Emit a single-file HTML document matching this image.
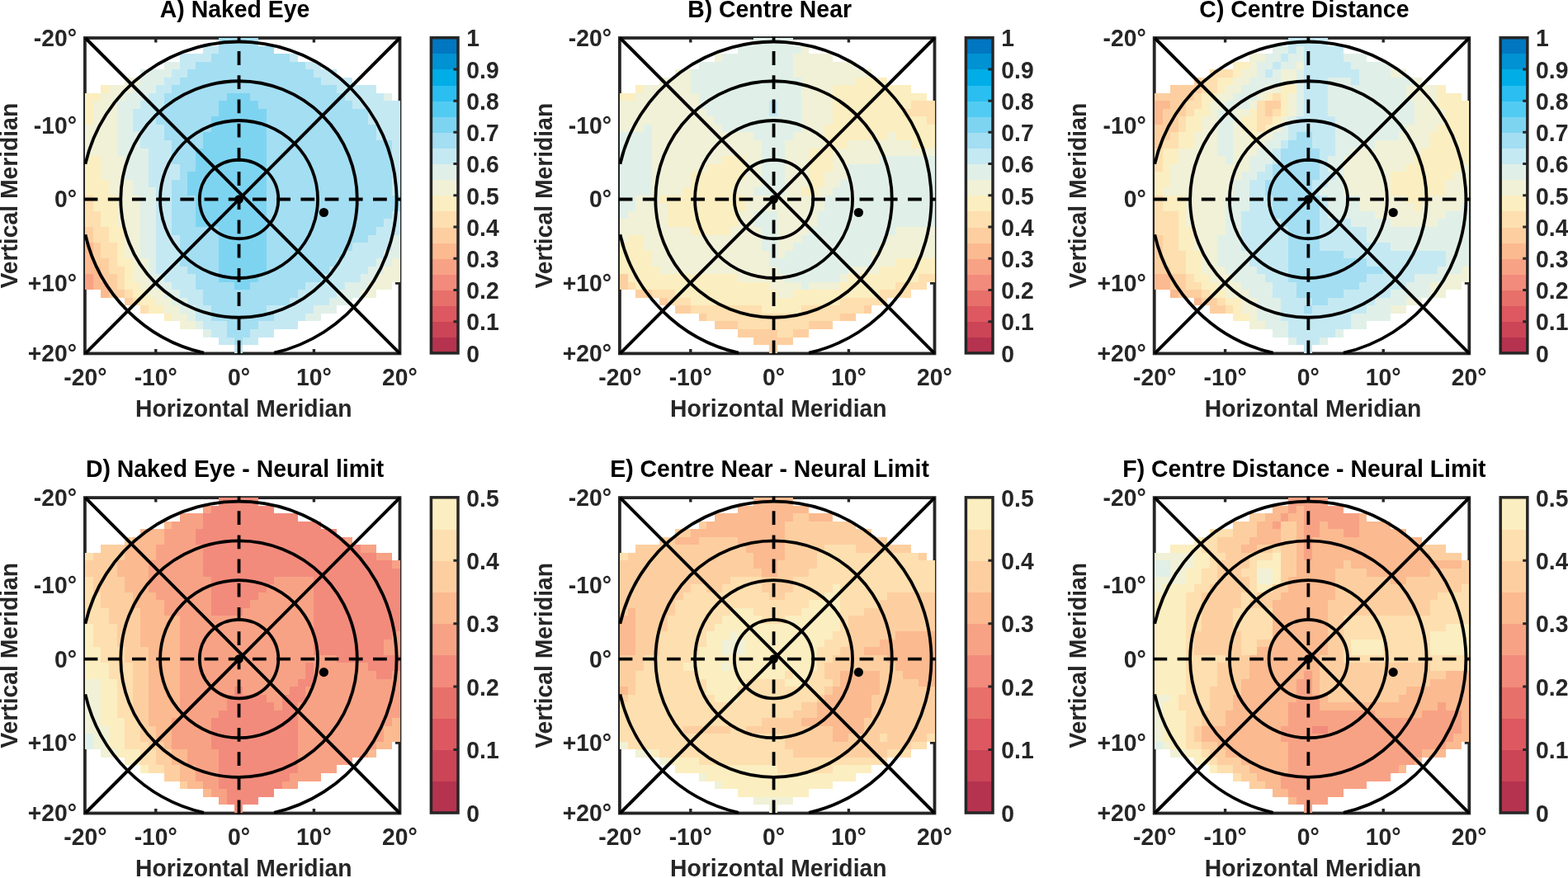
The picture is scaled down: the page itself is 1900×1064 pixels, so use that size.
<!DOCTYPE html>
<html lang="en">
<head>
<meta charset="utf-8">
<title>Visual field maps</title>
<style>
html,body{margin:0;padding:0;background:#fff;}
body{width:1900px;height:1064px;overflow:hidden;}
svg{display:block;}
text{font-family:"Liberation Sans", sans-serif;font-weight:bold;fill:#262626;}
text.t{fill:#000;}
</style>
</head>
<body>
<svg width="1900" height="1064" viewBox="0 0 1900 1064">
<rect width="1900" height="1064" fill="#fff"/>
<g class="panel">
<path d="M188.8 428.4v-5.5M188.8 46v5.5M289.55 428.4v-5.5M289.55 46v5.5M380.4 428.4v-5.5M380.4 46v5.5M103.4 152.1h5.5M484.5 152.1h-5.5M103.4 241.5h5.5M484.5 241.5h-5.5M103.4 343h5.5M484.5 343h-5.5" stroke="#262626" stroke-width="3.4" fill="none"/>
<rect x="102.9" y="46" width="381.6" height="382.4" fill="none" stroke="#262626" stroke-width="3.8"/>
<g shape-rendering="crispEdges" stroke="none">
<path fill="#F8A285" d="M103.4 332.2H112.93V341.74H103.4ZM103.4 341.74H112.93V351.28H103.4Z"/>
<path fill="#FBBA90" d="M103.4 294.04H112.93V303.58H103.4ZM103.4 303.58H112.93V313.12H103.4ZM103.4 313.12H112.93V322.66H103.4ZM103.4 322.66H122.46V332.2H103.4ZM112.93 332.2H122.46V341.74H112.93ZM112.93 341.74H131.98V351.28H112.93ZM122.46 351.28H131.98V360.82H122.46Z"/>
<path fill="#FDCFA0" d="M103.4 274.96H112.93V284.5H103.4ZM103.4 284.5H112.93V294.04H103.4ZM112.93 294.04H122.46V303.58H112.93ZM112.93 303.58H122.46V313.12H112.93ZM112.93 313.12H131.98V322.66H112.93ZM122.46 322.66H131.98V332.2H122.46ZM122.46 332.2H141.51V341.74H122.46ZM131.98 341.74H141.51V351.28H131.98ZM131.98 351.28H151.04V360.82H131.98ZM151.04 360.82H160.56V370.36H151.04Z"/>
<path fill="#FEDFAF" d="M103.4 236.8H112.93V246.34H103.4ZM103.4 246.34H112.93V255.88H103.4ZM103.4 255.88H122.46V265.42H103.4ZM103.4 265.42H122.46V274.96H103.4ZM112.93 274.96H131.98V284.5H112.93ZM112.93 284.5H131.98V294.04H112.93ZM122.46 294.04H141.51V303.58H122.46ZM122.46 303.58H141.51V313.12H122.46ZM131.98 313.12H141.51V322.66H131.98ZM131.98 322.66H151.04V332.2H131.98ZM141.51 332.2H151.04V341.74H141.51ZM141.51 341.74H151.04V351.28H141.51ZM151.04 351.28H160.56V360.82H151.04ZM160.56 360.82H170.09V370.36H160.56ZM170.09 370.36H179.62V379.9H170.09Z"/>
<path fill="#FBEEC0" d="M122.46 103.24H131.98V112.78H122.46ZM103.4 112.78H122.46V122.32H103.4ZM103.4 122.32H112.93V131.86H103.4ZM103.4 131.86H112.93V141.4H103.4ZM103.4 141.4H112.93V150.94H103.4ZM103.4 189.1H122.46V198.64H103.4ZM103.4 198.64H122.46V208.18H103.4ZM103.4 208.18H122.46V217.72H103.4ZM103.4 217.72H131.98V227.26H103.4ZM103.4 227.26H131.98V236.8H103.4ZM112.93 236.8H141.51V246.34H112.93ZM112.93 246.34H141.51V255.88H112.93ZM122.46 255.88H141.51V265.42H122.46ZM122.46 265.42H141.51V274.96H122.46ZM131.98 274.96H151.04V284.5H131.98ZM131.98 284.5H151.04V294.04H131.98ZM141.51 294.04H151.04V303.58H141.51ZM141.51 303.58H151.04V313.12H141.51ZM141.51 313.12H160.56V322.66H141.51ZM151.04 322.66H160.56V332.2H151.04ZM151.04 332.2H160.56V341.74H151.04ZM151.04 341.74H170.09V351.28H151.04ZM160.56 351.28H179.62V360.82H160.56ZM170.09 360.82H189.15V370.36H170.09ZM179.62 370.36H198.68V379.9H179.62ZM198.68 379.9H208.2V389.44H198.68Z"/>
<path fill="#F0F1D7" d="M151.04 93.7H170.09V103.24H151.04ZM131.98 103.24H160.56V112.78H131.98ZM122.46 112.78H151.04V122.32H122.46ZM112.93 122.32H141.51V131.86H112.93ZM112.93 131.86H141.51V141.4H112.93ZM112.93 141.4H141.51V150.94H112.93ZM103.4 150.94H141.51V160.48H103.4ZM103.4 160.48H141.51V170.02H103.4ZM103.4 170.02H141.51V179.56H103.4ZM103.4 179.56H141.51V189.1H103.4ZM122.46 189.1H151.04V198.64H122.46ZM122.46 198.64H151.04V208.18H122.46ZM122.46 208.18H151.04V217.72H122.46ZM131.98 217.72H160.56V227.26H131.98ZM131.98 227.26H160.56V236.8H131.98ZM141.51 236.8H170.09V246.34H141.51ZM141.51 246.34H170.09V255.88H141.51ZM141.51 255.88H170.09V265.42H141.51ZM141.51 265.42H170.09V274.96H141.51ZM151.04 274.96H170.09V284.5H151.04ZM151.04 284.5H170.09V294.04H151.04ZM151.04 294.04H170.09V303.58H151.04ZM151.04 303.58H170.09V313.12H151.04ZM160.56 313.12H179.62V322.66H160.56ZM474.97 313.12H484.5V322.66H474.97ZM160.56 322.66H179.62V332.2H160.56ZM465.45 322.66H484.5V332.2H465.45ZM160.56 332.2H179.62V341.74H160.56ZM455.92 332.2H484.5V341.74H455.92ZM170.09 341.74H189.15V351.28H170.09ZM446.39 341.74H474.97V351.28H446.39ZM179.62 351.28H198.68V360.82H179.62ZM436.86 351.28H455.92V360.82H436.86ZM189.15 360.82H208.2V370.36H189.15ZM198.68 370.36H217.73V379.9H198.68ZM208.2 379.9H227.26V389.44H208.2ZM217.73 389.44H236.78V398.98H217.73Z"/>
<path fill="#E0F0E8" d="M198.68 74.62H217.73V84.16H198.68ZM170.09 84.16H208.2V93.7H170.09ZM170.09 93.7H198.68V103.24H170.09ZM160.56 103.24H189.15V112.78H160.56ZM151.04 112.78H179.62V122.32H151.04ZM465.45 112.78H474.97V122.32H465.45ZM141.51 122.32H170.09V131.86H141.51ZM141.51 131.86H160.56V141.4H141.51ZM141.51 141.4H160.56V150.94H141.51ZM141.51 150.94H160.56V160.48H141.51ZM141.51 160.48H170.09V170.02H141.51ZM141.51 170.02H170.09V179.56H141.51ZM141.51 179.56H179.62V189.1H141.51ZM151.04 189.1H179.62V198.64H151.04ZM151.04 198.64H179.62V208.18H151.04ZM151.04 208.18H179.62V217.72H151.04ZM160.56 217.72H179.62V227.26H160.56ZM160.56 227.26H189.15V236.8H160.56ZM170.09 236.8H189.15V246.34H170.09ZM170.09 246.34H189.15V255.88H170.09ZM170.09 255.88H189.15V265.42H170.09ZM170.09 265.42H189.15V274.96H170.09ZM170.09 274.96H189.15V284.5H170.09ZM170.09 284.5H189.15V294.04H170.09ZM474.97 284.5H484.5V294.04H474.97ZM170.09 294.04H189.15V303.58H170.09ZM474.97 294.04H484.5V303.58H474.97ZM170.09 303.58H189.15V313.12H170.09ZM465.45 303.58H484.5V313.12H465.45ZM179.62 313.12H189.15V322.66H179.62ZM455.92 313.12H474.97V322.66H455.92ZM179.62 322.66H189.15V332.2H179.62ZM446.39 322.66H465.45V332.2H446.39ZM179.62 332.2H198.68V341.74H179.62ZM436.86 332.2H455.92V341.74H436.86ZM189.15 341.74H208.2V351.28H189.15ZM417.81 341.74H446.39V351.28H417.81ZM198.68 351.28H217.73V360.82H198.68ZM408.28 351.28H436.86V360.82H408.28ZM208.2 360.82H227.26V370.36H208.2ZM398.75 360.82H427.34V370.36H398.75ZM217.73 370.36H236.78V379.9H217.73ZM379.7 370.36H408.28V379.9H379.7ZM227.26 379.9H236.78V389.44H227.26ZM370.17 379.9H389.23V389.44H370.17ZM236.78 389.44H246.31V398.98H236.78ZM246.31 398.98H255.84V408.52H246.31Z"/>
<path fill="#C5E9F3" d="M246.31 55.54H265.37V65.08H246.31ZM217.73 65.08H255.84V74.62H217.73ZM351.12 65.08H360.64V74.62H351.12ZM217.73 74.62H236.78V84.16H217.73ZM370.17 74.62H389.23V84.16H370.17ZM208.2 84.16H227.26V93.7H208.2ZM379.7 84.16H408.28V93.7H379.7ZM198.68 93.7H217.73V103.24H198.68ZM389.23 93.7H427.34V103.24H389.23ZM189.15 103.24H208.2V112.78H189.15ZM408.28 103.24H455.92V112.78H408.28ZM179.62 112.78H198.68V122.32H179.62ZM417.81 112.78H465.45V122.32H417.81ZM170.09 122.32H198.68V131.86H170.09ZM427.34 122.32H484.5V131.86H427.34ZM160.56 131.86H189.15V141.4H160.56ZM446.39 131.86H484.5V141.4H446.39ZM160.56 141.4H189.15V150.94H160.56ZM446.39 141.4H484.5V150.94H446.39ZM160.56 150.94H198.68V160.48H160.56ZM455.92 150.94H484.5V160.48H455.92ZM170.09 160.48H198.68V170.02H170.09ZM455.92 160.48H484.5V170.02H455.92ZM170.09 170.02H208.2V179.56H170.09ZM474.97 170.02H484.5V179.56H474.97ZM179.62 179.56H208.2V189.1H179.62ZM474.97 179.56H484.5V189.1H474.97ZM179.62 189.1H208.2V198.64H179.62ZM474.97 189.1H484.5V198.64H474.97ZM179.62 198.64H217.73V208.18H179.62ZM474.97 198.64H484.5V208.18H474.97ZM179.62 208.18H217.73V217.72H179.62ZM474.97 208.18H484.5V217.72H474.97ZM179.62 217.72H208.2V227.26H179.62ZM474.97 217.72H484.5V227.26H474.97ZM189.15 227.26H208.2V236.8H189.15ZM474.97 227.26H484.5V236.8H474.97ZM189.15 236.8H208.2V246.34H189.15ZM189.15 246.34H208.2V255.88H189.15ZM189.15 255.88H208.2V265.42H189.15ZM474.97 255.88H484.5V265.42H474.97ZM189.15 265.42H208.2V274.96H189.15ZM465.45 265.42H484.5V274.96H465.45ZM189.15 274.96H208.2V284.5H189.15ZM455.92 274.96H484.5V284.5H455.92ZM189.15 284.5H217.73V294.04H189.15ZM446.39 284.5H474.97V294.04H446.39ZM189.15 294.04H217.73V303.58H189.15ZM427.34 294.04H474.97V303.58H427.34ZM189.15 303.58H217.73V313.12H189.15ZM417.81 303.58H465.45V313.12H417.81ZM189.15 313.12H217.73V322.66H189.15ZM408.28 313.12H455.92V322.66H408.28ZM189.15 322.66H227.26V332.2H189.15ZM398.75 322.66H446.39V332.2H398.75ZM198.68 332.2H236.78V341.74H198.68ZM389.23 332.2H436.86V341.74H389.23ZM208.2 341.74H236.78V351.28H208.2ZM370.17 341.74H417.81V351.28H370.17ZM217.73 351.28H246.31V360.82H217.73ZM360.64 351.28H408.28V360.82H360.64ZM227.26 360.82H246.31V370.36H227.26ZM351.12 360.82H398.75V370.36H351.12ZM236.78 370.36H255.84V379.9H236.78ZM322.53 370.36H379.7V379.9H322.53ZM236.78 379.9H255.84V389.44H236.78ZM332.06 379.9H370.17V389.44H332.06ZM246.31 389.44H274.89V398.98H246.31ZM313 389.44H360.64V398.98H313ZM255.84 398.98H274.89V408.52H255.84ZM303.48 398.98H332.06V408.52H303.48ZM265.37 408.52H284.42V418.06H265.37ZM293.95 408.52H313V418.06H293.95ZM284.42 418.06H293.95V427.6H284.42Z"/>
<path fill="#A4DEF2" d="M265.37 46H313V55.54H265.37ZM265.37 55.54H332.06V65.08H265.37ZM255.84 65.08H351.12V74.62H255.84ZM236.78 74.62H370.17V84.16H236.78ZM227.26 84.16H379.7V93.7H227.26ZM217.73 93.7H389.23V103.24H217.73ZM208.2 103.24H408.28V112.78H208.2ZM198.68 112.78H274.89V122.32H198.68ZM303.48 112.78H417.81V122.32H303.48ZM198.68 122.32H265.37V131.86H198.68ZM313 122.32H427.34V131.86H313ZM189.15 131.86H265.37V141.4H189.15ZM322.53 131.86H446.39V141.4H322.53ZM189.15 141.4H255.84V150.94H189.15ZM322.53 141.4H446.39V150.94H322.53ZM198.68 150.94H255.84V160.48H198.68ZM322.53 150.94H455.92V160.48H322.53ZM198.68 160.48H246.31V170.02H198.68ZM322.53 160.48H455.92V170.02H322.53ZM208.2 170.02H246.31V179.56H208.2ZM322.53 170.02H474.97V179.56H322.53ZM208.2 179.56H236.78V189.1H208.2ZM322.53 179.56H474.97V189.1H322.53ZM208.2 189.1H236.78V198.64H208.2ZM322.53 189.1H474.97V198.64H322.53ZM217.73 198.64H236.78V208.18H217.73ZM322.53 198.64H474.97V208.18H322.53ZM217.73 208.18H227.26V217.72H217.73ZM322.53 208.18H474.97V217.72H322.53ZM208.2 217.72H227.26V227.26H208.2ZM322.53 217.72H474.97V227.26H322.53ZM208.2 227.26H227.26V236.8H208.2ZM322.53 227.26H474.97V236.8H322.53ZM208.2 236.8H236.78V246.34H208.2ZM322.53 236.8H484.5V246.34H322.53ZM208.2 246.34H236.78V255.88H208.2ZM322.53 246.34H484.5V255.88H322.53ZM208.2 255.88H236.78V265.42H208.2ZM322.53 255.88H474.97V265.42H322.53ZM208.2 265.42H236.78V274.96H208.2ZM322.53 265.42H465.45V274.96H322.53ZM208.2 274.96H265.37V284.5H208.2ZM322.53 274.96H455.92V284.5H322.53ZM217.73 284.5H265.37V294.04H217.73ZM322.53 284.5H446.39V294.04H322.53ZM217.73 294.04H265.37V303.58H217.73ZM322.53 294.04H427.34V303.58H322.53ZM217.73 303.58H265.37V313.12H217.73ZM322.53 303.58H417.81V313.12H322.53ZM217.73 313.12H265.37V322.66H217.73ZM322.53 313.12H408.28V322.66H322.53ZM227.26 322.66H265.37V332.2H227.26ZM322.53 322.66H398.75V332.2H322.53ZM236.78 332.2H265.37V341.74H236.78ZM313 332.2H389.23V341.74H313ZM236.78 341.74H284.42V351.28H236.78ZM303.48 341.74H370.17V351.28H303.48ZM246.31 351.28H360.64V360.82H246.31ZM246.31 360.82H351.12V370.36H246.31ZM255.84 370.36H322.53V379.9H255.84ZM255.84 379.9H332.06V389.44H255.84ZM274.89 389.44H313V398.98H274.89ZM274.89 398.98H303.48V408.52H274.89ZM284.42 408.52H293.95V418.06H284.42Z"/>
<path fill="#7DD4F1" d="M274.89 112.78H303.48V122.32H274.89ZM265.37 122.32H313V131.86H265.37ZM265.37 131.86H322.53V141.4H265.37ZM255.84 141.4H322.53V150.94H255.84ZM255.84 150.94H322.53V160.48H255.84ZM246.31 160.48H322.53V170.02H246.31ZM246.31 170.02H322.53V179.56H246.31ZM236.78 179.56H322.53V189.1H236.78ZM236.78 189.1H322.53V198.64H236.78ZM236.78 198.64H322.53V208.18H236.78ZM227.26 208.18H322.53V217.72H227.26ZM227.26 217.72H322.53V227.26H227.26ZM227.26 227.26H322.53V236.8H227.26ZM236.78 236.8H322.53V246.34H236.78ZM236.78 246.34H322.53V255.88H236.78ZM236.78 255.88H322.53V265.42H236.78ZM236.78 265.42H322.53V274.96H236.78ZM265.37 274.96H322.53V284.5H265.37ZM265.37 284.5H322.53V294.04H265.37ZM265.37 294.04H322.53V303.58H265.37ZM265.37 303.58H322.53V313.12H265.37ZM265.37 313.12H322.53V322.66H265.37ZM265.37 322.66H322.53V332.2H265.37ZM265.37 332.2H313V341.74H265.37ZM284.42 341.74H303.48V351.28H284.42Z"/>
</g>
<g fill="none" stroke="#000" stroke-linecap="butt">
<circle cx="289.55" cy="241.5" r="47.75" stroke-width="3.8"/>
<circle cx="289.55" cy="241.5" r="95.5" stroke-width="3.8"/>
<circle cx="289.55" cy="241.5" r="143.25" stroke-width="3.8"/>
<path d="M103.4 198.73A191 191 0 1 1 332.1 427.7M247 427.7A191 191 0 0 1 103.4 284.27" stroke-width="3.8"/>
<path d="M103.4 46L484.5 428.4M103.4 428.4L484.5 46" stroke-width="3.9"/>
<path d="M101.6 241.5H486M289.55 429.3V44.5" stroke-width="3.8" stroke-dasharray="16.8 12.4"/>
<circle cx="289.55" cy="241.5" r="5.3" fill="#000" stroke="none"/>
<circle cx="392.4" cy="257.5" r="5.6" fill="#000" stroke="none"/>
</g>
<text class="t" transform="translate(284.6 21) scale(1 1.04)" font-size="28.4" text-anchor="middle">A) Naked Eye</text>
<text transform="translate(103.4 466.6) scale(1 1.04)" font-size="28.3" text-anchor="middle">-20°</text>
<text transform="translate(188.8 466.6) scale(1 1.04)" font-size="28.3" text-anchor="middle">-10°</text>
<text transform="translate(289.55 466.6) scale(1 1.04)" font-size="28.3" text-anchor="middle">0°</text>
<text transform="translate(380.4 466.6) scale(1 1.04)" font-size="28.3" text-anchor="middle">10°</text>
<text transform="translate(484.45 466.6) scale(1 1.04)" font-size="28.3" text-anchor="middle">20°</text>
<text transform="translate(93 55.9) scale(1 1.04)" font-size="28.3" text-anchor="end">-20°</text>
<text transform="translate(93 162) scale(1 1.04)" font-size="28.3" text-anchor="end">-10°</text>
<text transform="translate(93 251.4) scale(1 1.04)" font-size="28.3" text-anchor="end">0°</text>
<text transform="translate(93 352.9) scale(1 1.04)" font-size="28.3" text-anchor="end">+10°</text>
<text transform="translate(93 438.3) scale(1 1.04)" font-size="28.3" text-anchor="end">+20°</text>
<text transform="translate(295.3 505.2) scale(1 1.04)" font-size="28.3" text-anchor="middle">Horizontal Meridian</text>
<text transform="translate(20.6 237.2) rotate(-90) scale(1 1.04)" font-size="28.3" text-anchor="middle">Vertical Meridian</text>
<g shape-rendering="crispEdges">
<rect x="522.4" y="408.79" width="32.6" height="19.11" fill="#B5334F"/>
<rect x="522.4" y="389.68" width="32.6" height="19.61" fill="#CB4557"/>
<rect x="522.4" y="370.57" width="32.6" height="19.61" fill="#DD5860"/>
<rect x="522.4" y="351.46" width="32.6" height="19.61" fill="#E8706B"/>
<rect x="522.4" y="332.35" width="32.6" height="19.61" fill="#F28B7C"/>
<rect x="522.4" y="313.24" width="32.6" height="19.61" fill="#F8A285"/>
<rect x="522.4" y="294.13" width="32.6" height="19.61" fill="#FBBA90"/>
<rect x="522.4" y="275.02" width="32.6" height="19.61" fill="#FDCFA0"/>
<rect x="522.4" y="255.91" width="32.6" height="19.61" fill="#FEDFAF"/>
<rect x="522.4" y="236.8" width="32.6" height="19.61" fill="#FBEEC0"/>
<rect x="522.4" y="217.69" width="32.6" height="19.61" fill="#F0F1D7"/>
<rect x="522.4" y="198.58" width="32.6" height="19.61" fill="#E0F0E8"/>
<rect x="522.4" y="179.47" width="32.6" height="19.61" fill="#C5E9F3"/>
<rect x="522.4" y="160.36" width="32.6" height="19.61" fill="#A4DEF2"/>
<rect x="522.4" y="141.25" width="32.6" height="19.61" fill="#7DD4F1"/>
<rect x="522.4" y="122.14" width="32.6" height="19.61" fill="#52CBF2"/>
<rect x="522.4" y="103.03" width="32.6" height="19.61" fill="#2BBEF0"/>
<rect x="522.4" y="83.92" width="32.6" height="19.61" fill="#00ADE6"/>
<rect x="522.4" y="64.81" width="32.6" height="19.61" fill="#0092D2"/>
<rect x="522.4" y="45.7" width="32.6" height="19.61" fill="#0077C0"/>
</g>
<text transform="translate(565.3 438.6) scale(1 1.04)" font-size="28.3">0</text>
<text transform="translate(565.3 400.38) scale(1 1.04)" font-size="28.3">0.1</text>
<text transform="translate(565.3 362.16) scale(1 1.04)" font-size="28.3">0.2</text>
<text transform="translate(565.3 323.94) scale(1 1.04)" font-size="28.3">0.3</text>
<text transform="translate(565.3 285.72) scale(1 1.04)" font-size="28.3">0.4</text>
<text transform="translate(565.3 247.5) scale(1 1.04)" font-size="28.3">0.5</text>
<text transform="translate(565.3 209.28) scale(1 1.04)" font-size="28.3">0.6</text>
<text transform="translate(565.3 171.06) scale(1 1.04)" font-size="28.3">0.7</text>
<text transform="translate(565.3 132.84) scale(1 1.04)" font-size="28.3">0.8</text>
<text transform="translate(565.3 94.62) scale(1 1.04)" font-size="28.3">0.9</text>
<text transform="translate(565.3 56.4) scale(1 1.04)" font-size="28.3">1</text>
<path d="M555 389.68h-5.6M555 351.46h-5.6M555 313.24h-5.6M555 275.02h-5.6M555 236.8h-5.6M555 198.58h-5.6M555 160.36h-5.6M555 122.14h-5.6M555 83.92h-5.6" stroke="#262626" stroke-width="3" fill="none"/>
<rect x="522.4" y="45.7" width="32.6" height="382.2" fill="none" stroke="#262626" stroke-width="3.5"/>
</g>
<g class="panel">
<path d="M836.8 428.4v-5.5M836.8 46v5.5M937.55 428.4v-5.5M937.55 46v5.5M1028.4 428.4v-5.5M1028.4 46v5.5M751.4 152.1h5.5M1132.5 152.1h-5.5M751.4 241.5h5.5M1132.5 241.5h-5.5M751.4 343h5.5M1132.5 343h-5.5" stroke="#262626" stroke-width="3.4" fill="none"/>
<rect x="750.9" y="46" width="381.6" height="382.4" fill="none" stroke="#262626" stroke-width="3.8"/>
<g shape-rendering="crispEdges" stroke="none">
<path fill="#FDCFA0" d="M751.4 332.2H760.93V341.74H751.4ZM751.4 341.74H760.93V351.28H751.4ZM770.45 351.28H789.51V360.82H770.45ZM799.04 360.82H808.56V370.36H799.04ZM818.09 370.36H837.15V379.9H818.09ZM1046.75 370.36H1056.28V379.9H1046.75ZM846.67 379.9H856.2V389.44H846.67ZM1018.17 379.9H1037.22V389.44H1018.17ZM865.73 389.44H894.31V398.98H865.73ZM980.06 389.44H1008.64V398.98H980.06ZM894.31 398.98H941.95V408.52H894.31ZM961 398.98H980.06V408.52H961ZM913.37 408.52H961V418.06H913.37ZM932.42 418.06H941.95V427.6H932.42Z"/>
<path fill="#FEDFAF" d="M1103.92 122.32H1132.5V131.86H1103.92ZM1094.39 131.86H1132.5V141.4H1094.39ZM1122.97 141.4H1132.5V150.94H1122.97ZM1113.44 332.2H1132.5V341.74H1113.44ZM760.93 341.74H770.45V351.28H760.93ZM1084.86 341.74H1122.97V351.28H1084.86ZM789.51 351.28H818.09V360.82H789.51ZM1065.81 351.28H1103.92V360.82H1065.81ZM808.56 360.82H837.15V370.36H808.56ZM1018.17 360.82H1075.34V370.36H1018.17ZM837.15 370.36H922.89V379.9H837.15ZM970.53 370.36H1046.75V379.9H970.53ZM856.2 379.9H1018.17V389.44H856.2ZM894.31 389.44H980.06V398.98H894.31ZM941.95 398.98H961V408.52H941.95Z"/>
<path fill="#FBEEC0" d="M1037.22 93.7H1075.34V103.24H1037.22ZM770.45 103.24H779.98V112.78H770.45ZM1008.64 103.24H1103.92V112.78H1008.64ZM751.4 112.78H770.45V122.32H751.4ZM1008.64 112.78H1122.97V122.32H1008.64ZM1008.64 122.32H1103.92V131.86H1008.64ZM1008.64 131.86H1094.39V141.4H1008.64ZM1008.64 141.4H1122.97V150.94H1008.64ZM999.12 150.94H1132.5V160.48H999.12ZM999.12 160.48H1075.34V170.02H999.12ZM1084.86 160.48H1132.5V170.02H1084.86ZM999.12 170.02H1027.7V179.56H999.12ZM1103.92 170.02H1132.5V179.56H1103.92ZM980.06 179.56H1008.64V189.1H980.06ZM875.26 189.1H903.84V198.64H875.26ZM980.06 189.1H1008.64V198.64H980.06ZM856.2 198.64H903.84V208.18H856.2ZM980.06 198.64H1008.64V208.18H980.06ZM837.15 208.18H903.84V217.72H837.15ZM980.06 208.18H999.12V217.72H980.06ZM837.15 217.72H894.31V227.26H837.15ZM980.06 217.72H999.12V227.26H980.06ZM827.62 227.26H894.31V236.8H827.62ZM970.53 227.26H989.59V236.8H970.53ZM799.04 236.8H903.84V246.34H799.04ZM808.56 246.34H903.84V255.88H808.56ZM808.56 255.88H894.31V265.42H808.56ZM808.56 265.42H894.31V274.96H808.56ZM837.15 274.96H884.78V284.5H837.15ZM760.93 284.5H779.98V294.04H760.93ZM751.4 294.04H779.98V303.58H751.4ZM751.4 303.58H789.51V313.12H751.4ZM751.4 313.12H789.51V322.66H751.4ZM1084.86 313.12H1132.5V322.66H1084.86ZM751.4 322.66H799.04V332.2H751.4ZM1065.81 322.66H1132.5V332.2H1065.81ZM760.93 332.2H894.31V341.74H760.93ZM1027.7 332.2H1113.44V341.74H1027.7ZM770.45 341.74H932.42V351.28H770.45ZM1018.17 341.74H1084.86V351.28H1018.17ZM818.09 351.28H941.95V360.82H818.09ZM961 351.28H1065.81V360.82H961ZM837.15 360.82H1018.17V370.36H837.15ZM922.89 370.36H970.53V379.9H922.89Z"/>
<path fill="#F0F1D7" d="M970.53 55.54H980.06V65.08H970.53ZM865.73 65.08H875.26V74.62H865.73ZM961 65.08H1008.64V74.62H961ZM961 74.62H1037.22V84.16H961ZM818.09 84.16H837.15V93.7H818.09ZM961 84.16H1056.28V93.7H961ZM799.04 93.7H837.15V103.24H799.04ZM970.53 93.7H1037.22V103.24H970.53ZM779.98 103.24H837.15V112.78H779.98ZM970.53 103.24H1008.64V112.78H970.53ZM770.45 112.78H846.67V122.32H770.45ZM970.53 112.78H1008.64V122.32H970.53ZM751.4 122.32H846.67V131.86H751.4ZM970.53 122.32H1008.64V131.86H970.53ZM751.4 131.86H856.2V141.4H751.4ZM970.53 131.86H1008.64V141.4H970.53ZM751.4 141.4H865.73V150.94H751.4ZM970.53 141.4H1008.64V150.94H970.53ZM751.4 150.94H779.98V160.48H751.4ZM789.51 150.94H875.26V160.48H789.51ZM970.53 150.94H999.12V160.48H970.53ZM789.51 160.48H913.37V170.02H789.51ZM961 160.48H999.12V170.02H961ZM1075.34 160.48H1084.86V170.02H1075.34ZM789.51 170.02H922.89V179.56H789.51ZM951.48 170.02H999.12V179.56H951.48ZM1027.7 170.02H1103.92V179.56H1027.7ZM789.51 179.56H922.89V189.1H789.51ZM951.48 179.56H980.06V189.1H951.48ZM1008.64 179.56H1132.5V189.1H1008.64ZM789.51 189.1H875.26V198.64H789.51ZM903.84 189.1H922.89V198.64H903.84ZM951.48 189.1H980.06V198.64H951.48ZM1008.64 189.1H1065.81V198.64H1008.64ZM789.51 198.64H856.2V208.18H789.51ZM903.84 198.64H922.89V208.18H903.84ZM951.48 198.64H980.06V208.18H951.48ZM1008.64 198.64H1027.7V208.18H1008.64ZM789.51 208.18H837.15V217.72H789.51ZM903.84 208.18H922.89V217.72H903.84ZM951.48 208.18H980.06V217.72H951.48ZM999.12 208.18H1027.7V217.72H999.12ZM789.51 217.72H837.15V227.26H789.51ZM894.31 217.72H922.89V227.26H894.31ZM951.48 217.72H980.06V227.26H951.48ZM999.12 217.72H1018.17V227.26H999.12ZM789.51 227.26H827.62V236.8H789.51ZM894.31 227.26H913.37V236.8H894.31ZM951.48 227.26H970.53V236.8H951.48ZM989.59 227.26H1008.64V236.8H989.59ZM770.45 236.8H799.04V246.34H770.45ZM903.84 236.8H999.12V246.34H903.84ZM770.45 246.34H808.56V255.88H770.45ZM903.84 246.34H999.12V255.88H903.84ZM760.93 255.88H808.56V265.42H760.93ZM894.31 255.88H913.37V265.42H894.31ZM941.95 255.88H989.59V265.42H941.95ZM751.4 265.42H808.56V274.96H751.4ZM894.31 265.42H913.37V274.96H894.31ZM941.95 265.42H989.59V274.96H941.95ZM751.4 274.96H837.15V284.5H751.4ZM884.78 274.96H922.89V284.5H884.78ZM941.95 274.96H980.06V284.5H941.95ZM1084.86 274.96H1132.5V284.5H1084.86ZM751.4 284.5H760.93V294.04H751.4ZM779.98 284.5H922.89V294.04H779.98ZM941.95 284.5H970.53V294.04H941.95ZM1075.34 284.5H1132.5V294.04H1075.34ZM779.98 294.04H922.89V303.58H779.98ZM941.95 294.04H961V303.58H941.95ZM1065.81 294.04H1132.5V303.58H1065.81ZM789.51 303.58H932.42V313.12H789.51ZM941.95 303.58H951.48V313.12H941.95ZM1056.28 303.58H1132.5V313.12H1056.28ZM789.51 313.12H932.42V322.66H789.51ZM1056.28 313.12H1084.86V322.66H1056.28ZM799.04 322.66H941.95V332.2H799.04ZM1027.7 322.66H1065.81V332.2H1027.7ZM894.31 332.2H951.48V341.74H894.31ZM1018.17 332.2H1027.7V341.74H1018.17ZM932.42 341.74H970.53V351.28H932.42ZM980.06 341.74H1018.17V351.28H980.06ZM941.95 351.28H961V360.82H941.95Z"/>
<path fill="#E0F0E8" d="M913.37 46H961V55.54H913.37ZM894.31 55.54H970.53V65.08H894.31ZM875.26 65.08H961V74.62H875.26ZM846.67 74.62H961V84.16H846.67ZM837.15 84.16H961V93.7H837.15ZM837.15 93.7H970.53V103.24H837.15ZM837.15 103.24H970.53V112.78H837.15ZM846.67 112.78H970.53V122.32H846.67ZM846.67 122.32H932.42V131.86H846.67ZM941.95 122.32H970.53V131.86H941.95ZM856.2 131.86H932.42V141.4H856.2ZM941.95 131.86H970.53V141.4H941.95ZM865.73 141.4H970.53V150.94H865.73ZM779.98 150.94H789.51V160.48H779.98ZM875.26 150.94H970.53V160.48H875.26ZM751.4 160.48H789.51V170.02H751.4ZM913.37 160.48H961V170.02H913.37ZM751.4 170.02H789.51V179.56H751.4ZM922.89 170.02H951.48V179.56H922.89ZM751.4 179.56H789.51V189.1H751.4ZM922.89 179.56H951.48V189.1H922.89ZM751.4 189.1H789.51V198.64H751.4ZM922.89 189.1H951.48V198.64H922.89ZM1065.81 189.1H1132.5V198.64H1065.81ZM751.4 198.64H789.51V208.18H751.4ZM922.89 198.64H951.48V208.18H922.89ZM1027.7 198.64H1132.5V208.18H1027.7ZM751.4 208.18H789.51V217.72H751.4ZM922.89 208.18H951.48V217.72H922.89ZM1027.7 208.18H1132.5V217.72H1027.7ZM751.4 217.72H789.51V227.26H751.4ZM922.89 217.72H951.48V227.26H922.89ZM1018.17 217.72H1132.5V227.26H1018.17ZM751.4 227.26H789.51V236.8H751.4ZM913.37 227.26H951.48V236.8H913.37ZM1008.64 227.26H1132.5V236.8H1008.64ZM751.4 236.8H770.45V246.34H751.4ZM999.12 236.8H1132.5V246.34H999.12ZM751.4 246.34H770.45V255.88H751.4ZM999.12 246.34H1132.5V255.88H999.12ZM751.4 255.88H760.93V265.42H751.4ZM913.37 255.88H941.95V265.42H913.37ZM989.59 255.88H1132.5V265.42H989.59ZM913.37 265.42H941.95V274.96H913.37ZM989.59 265.42H1132.5V274.96H989.59ZM922.89 274.96H941.95V284.5H922.89ZM980.06 274.96H1084.86V284.5H980.06ZM922.89 284.5H941.95V294.04H922.89ZM970.53 284.5H1075.34V294.04H970.53ZM922.89 294.04H941.95V303.58H922.89ZM961 294.04H1065.81V303.58H961ZM932.42 303.58H941.95V313.12H932.42ZM951.48 303.58H1056.28V313.12H951.48ZM932.42 313.12H1056.28V322.66H932.42ZM941.95 322.66H1027.7V332.2H941.95ZM951.48 332.2H1018.17V341.74H951.48ZM970.53 341.74H980.06V351.28H970.53Z"/>
<path fill="#C5E9F3" d="M932.42 122.32H941.95V131.86H932.42ZM932.42 131.86H941.95V141.4H932.42Z"/>
</g>
<g fill="none" stroke="#000" stroke-linecap="butt">
<circle cx="937.55" cy="241.5" r="47.75" stroke-width="3.8"/>
<circle cx="937.55" cy="241.5" r="95.5" stroke-width="3.8"/>
<circle cx="937.55" cy="241.5" r="143.25" stroke-width="3.8"/>
<path d="M751.4 198.73A191 191 0 1 1 980.1 427.7M895 427.7A191 191 0 0 1 751.4 284.27" stroke-width="3.8"/>
<path d="M751.4 46L1132.5 428.4M751.4 428.4L1132.5 46" stroke-width="3.9"/>
<path d="M749.6 241.5H1134M937.55 429.3V44.5" stroke-width="3.8" stroke-dasharray="16.8 12.4"/>
<circle cx="937.55" cy="241.5" r="5.3" fill="#000" stroke="none"/>
<circle cx="1040.4" cy="257.5" r="5.6" fill="#000" stroke="none"/>
</g>
<text class="t" transform="translate(932.6 21) scale(1 1.04)" font-size="28.4" text-anchor="middle">B) Centre Near</text>
<text transform="translate(751.4 466.6) scale(1 1.04)" font-size="28.3" text-anchor="middle">-20°</text>
<text transform="translate(836.8 466.6) scale(1 1.04)" font-size="28.3" text-anchor="middle">-10°</text>
<text transform="translate(937.55 466.6) scale(1 1.04)" font-size="28.3" text-anchor="middle">0°</text>
<text transform="translate(1028.4 466.6) scale(1 1.04)" font-size="28.3" text-anchor="middle">10°</text>
<text transform="translate(1132.45 466.6) scale(1 1.04)" font-size="28.3" text-anchor="middle">20°</text>
<text transform="translate(741 55.9) scale(1 1.04)" font-size="28.3" text-anchor="end">-20°</text>
<text transform="translate(741 162) scale(1 1.04)" font-size="28.3" text-anchor="end">-10°</text>
<text transform="translate(741 251.4) scale(1 1.04)" font-size="28.3" text-anchor="end">0°</text>
<text transform="translate(741 352.9) scale(1 1.04)" font-size="28.3" text-anchor="end">+10°</text>
<text transform="translate(741 438.3) scale(1 1.04)" font-size="28.3" text-anchor="end">+20°</text>
<text transform="translate(943.3 505.2) scale(1 1.04)" font-size="28.3" text-anchor="middle">Horizontal Meridian</text>
<text transform="translate(668.6 237.2) rotate(-90) scale(1 1.04)" font-size="28.3" text-anchor="middle">Vertical Meridian</text>
<g shape-rendering="crispEdges">
<rect x="1170.4" y="408.79" width="32.6" height="19.11" fill="#B5334F"/>
<rect x="1170.4" y="389.68" width="32.6" height="19.61" fill="#CB4557"/>
<rect x="1170.4" y="370.57" width="32.6" height="19.61" fill="#DD5860"/>
<rect x="1170.4" y="351.46" width="32.6" height="19.61" fill="#E8706B"/>
<rect x="1170.4" y="332.35" width="32.6" height="19.61" fill="#F28B7C"/>
<rect x="1170.4" y="313.24" width="32.6" height="19.61" fill="#F8A285"/>
<rect x="1170.4" y="294.13" width="32.6" height="19.61" fill="#FBBA90"/>
<rect x="1170.4" y="275.02" width="32.6" height="19.61" fill="#FDCFA0"/>
<rect x="1170.4" y="255.91" width="32.6" height="19.61" fill="#FEDFAF"/>
<rect x="1170.4" y="236.8" width="32.6" height="19.61" fill="#FBEEC0"/>
<rect x="1170.4" y="217.69" width="32.6" height="19.61" fill="#F0F1D7"/>
<rect x="1170.4" y="198.58" width="32.6" height="19.61" fill="#E0F0E8"/>
<rect x="1170.4" y="179.47" width="32.6" height="19.61" fill="#C5E9F3"/>
<rect x="1170.4" y="160.36" width="32.6" height="19.61" fill="#A4DEF2"/>
<rect x="1170.4" y="141.25" width="32.6" height="19.61" fill="#7DD4F1"/>
<rect x="1170.4" y="122.14" width="32.6" height="19.61" fill="#52CBF2"/>
<rect x="1170.4" y="103.03" width="32.6" height="19.61" fill="#2BBEF0"/>
<rect x="1170.4" y="83.92" width="32.6" height="19.61" fill="#00ADE6"/>
<rect x="1170.4" y="64.81" width="32.6" height="19.61" fill="#0092D2"/>
<rect x="1170.4" y="45.7" width="32.6" height="19.61" fill="#0077C0"/>
</g>
<text transform="translate(1213.3 438.6) scale(1 1.04)" font-size="28.3">0</text>
<text transform="translate(1213.3 400.38) scale(1 1.04)" font-size="28.3">0.1</text>
<text transform="translate(1213.3 362.16) scale(1 1.04)" font-size="28.3">0.2</text>
<text transform="translate(1213.3 323.94) scale(1 1.04)" font-size="28.3">0.3</text>
<text transform="translate(1213.3 285.72) scale(1 1.04)" font-size="28.3">0.4</text>
<text transform="translate(1213.3 247.5) scale(1 1.04)" font-size="28.3">0.5</text>
<text transform="translate(1213.3 209.28) scale(1 1.04)" font-size="28.3">0.6</text>
<text transform="translate(1213.3 171.06) scale(1 1.04)" font-size="28.3">0.7</text>
<text transform="translate(1213.3 132.84) scale(1 1.04)" font-size="28.3">0.8</text>
<text transform="translate(1213.3 94.62) scale(1 1.04)" font-size="28.3">0.9</text>
<text transform="translate(1213.3 56.4) scale(1 1.04)" font-size="28.3">1</text>
<path d="M1203 389.68h-5.6M1203 351.46h-5.6M1203 313.24h-5.6M1203 275.02h-5.6M1203 236.8h-5.6M1203 198.58h-5.6M1203 160.36h-5.6M1203 122.14h-5.6M1203 83.92h-5.6" stroke="#262626" stroke-width="3" fill="none"/>
<rect x="1170.4" y="45.7" width="32.6" height="382.2" fill="none" stroke="#262626" stroke-width="3.5"/>
</g>
<g class="panel">
<path d="M1484.6 428.4v-5.5M1484.6 46v5.5M1585.35 428.4v-5.5M1585.35 46v5.5M1676.2 428.4v-5.5M1676.2 46v5.5M1399.2 152.1h5.5M1780.3 152.1h-5.5M1399.2 241.5h5.5M1780.3 241.5h-5.5M1399.2 343h5.5M1780.3 343h-5.5" stroke="#262626" stroke-width="3.4" fill="none"/>
<rect x="1398.7" y="46" width="381.6" height="382.4" fill="none" stroke="#262626" stroke-width="3.8"/>
<g shape-rendering="crispEdges" stroke="none">
<path fill="#FBBA90" d="M1399.2 122.32H1418.26V131.86H1399.2ZM1399.2 131.86H1408.73V141.4H1399.2ZM1399.2 141.4H1408.73V150.94H1399.2ZM1399.2 332.2H1418.26V341.74H1399.2ZM1399.2 341.74H1418.26V351.28H1399.2ZM1418.26 351.28H1427.78V360.82H1418.26ZM1446.84 360.82H1456.37V370.36H1446.84Z"/>
<path fill="#FDCFA0" d="M1446.84 93.7H1456.37V103.24H1446.84ZM1418.26 103.24H1456.37V112.78H1418.26ZM1399.2 112.78H1446.84V122.32H1399.2ZM1418.26 122.32H1437.31V131.86H1418.26ZM1532.59 122.32H1551.64V131.86H1532.59ZM1408.73 131.86H1437.31V141.4H1408.73ZM1532.59 131.86H1542.11V141.4H1532.59ZM1408.73 141.4H1427.78V150.94H1408.73ZM1399.2 150.94H1427.78V160.48H1399.2ZM1399.2 160.48H1418.26V170.02H1399.2ZM1399.2 170.02H1408.73V179.56H1399.2ZM1399.2 284.5H1408.73V294.04H1399.2ZM1399.2 294.04H1408.73V303.58H1399.2ZM1399.2 303.58H1408.73V313.12H1399.2ZM1399.2 313.12H1408.73V322.66H1399.2ZM1399.2 322.66H1418.26V332.2H1399.2ZM1418.26 332.2H1437.31V341.74H1418.26ZM1418.26 341.74H1437.31V351.28H1418.26ZM1427.78 351.28H1456.37V360.82H1427.78ZM1456.37 360.82H1475.42V370.36H1456.37ZM1465.89 370.36H1484.95V379.9H1465.89Z"/>
<path fill="#FEDFAF" d="M1465.89 84.16H1494.48V93.7H1465.89ZM1456.37 93.7H1475.42V103.24H1456.37ZM1456.37 103.24H1475.42V112.78H1456.37ZM1446.84 112.78H1456.37V122.32H1446.84ZM1542.11 112.78H1551.64V122.32H1542.11ZM1437.31 122.32H1456.37V131.86H1437.31ZM1523.06 122.32H1532.59V131.86H1523.06ZM1437.31 131.86H1446.84V141.4H1437.31ZM1523.06 131.86H1532.59V141.4H1523.06ZM1542.11 131.86H1551.64V141.4H1542.11ZM1427.78 141.4H1437.31V150.94H1427.78ZM1523.06 141.4H1542.11V150.94H1523.06ZM1427.78 150.94H1437.31V160.48H1427.78ZM1523.06 150.94H1532.59V160.48H1523.06ZM1418.26 160.48H1427.78V170.02H1418.26ZM1408.73 170.02H1427.78V179.56H1408.73ZM1399.2 179.56H1408.73V189.1H1399.2ZM1399.2 189.1H1408.73V198.64H1399.2ZM1399.2 198.64H1408.73V208.18H1399.2ZM1399.2 236.8H1408.73V246.34H1399.2ZM1399.2 246.34H1408.73V255.88H1399.2ZM1399.2 255.88H1427.78V265.42H1399.2ZM1399.2 265.42H1427.78V274.96H1399.2ZM1399.2 274.96H1427.78V284.5H1399.2ZM1408.73 284.5H1427.78V294.04H1408.73ZM1408.73 294.04H1427.78V303.58H1408.73ZM1408.73 303.58H1437.31V313.12H1408.73ZM1408.73 313.12H1437.31V322.66H1408.73ZM1418.26 322.66H1437.31V332.2H1418.26ZM1437.31 332.2H1446.84V341.74H1437.31ZM1437.31 341.74H1456.37V351.28H1437.31ZM1456.37 351.28H1465.89V360.82H1456.37ZM1475.42 360.82H1484.95V370.36H1475.42ZM1484.95 370.36H1494.48V379.9H1484.95Z"/>
<path fill="#FBEEC0" d="M1494.48 74.62H1513.53V84.16H1494.48ZM1494.48 84.16H1504V93.7H1494.48ZM1475.42 93.7H1494.48V103.24H1475.42ZM1475.42 103.24H1484.95V112.78H1475.42ZM1551.64 103.24H1570.7V112.78H1551.64ZM1742.19 103.24H1751.72V112.78H1742.19ZM1456.37 112.78H1475.42V122.32H1456.37ZM1532.59 112.78H1542.11V122.32H1532.59ZM1551.64 112.78H1561.17V122.32H1551.64ZM1742.19 112.78H1770.77V122.32H1742.19ZM1456.37 122.32H1465.89V131.86H1456.37ZM1551.64 122.32H1561.17V131.86H1551.64ZM1742.19 122.32H1780.3V131.86H1742.19ZM1446.84 131.86H1465.89V141.4H1446.84ZM1513.53 131.86H1523.06V141.4H1513.53ZM1551.64 131.86H1561.17V141.4H1551.64ZM1751.72 131.86H1780.3V141.4H1751.72ZM1437.31 141.4H1456.37V150.94H1437.31ZM1504 141.4H1523.06V150.94H1504ZM1542.11 141.4H1551.64V150.94H1542.11ZM1751.72 141.4H1780.3V150.94H1751.72ZM1437.31 150.94H1456.37V160.48H1437.31ZM1504 150.94H1523.06V160.48H1504ZM1532.59 150.94H1542.11V160.48H1532.59ZM1742.19 150.94H1780.3V160.48H1742.19ZM1427.78 160.48H1446.84V170.02H1427.78ZM1513.53 160.48H1523.06V170.02H1513.53ZM1732.66 160.48H1780.3V170.02H1732.66ZM1427.78 170.02H1446.84V179.56H1427.78ZM1732.66 170.02H1780.3V179.56H1732.66ZM1408.73 179.56H1427.78V189.1H1408.73ZM1723.13 179.56H1780.3V189.1H1723.13ZM1408.73 189.1H1427.78V198.64H1408.73ZM1713.61 189.1H1780.3V198.64H1713.61ZM1408.73 198.64H1418.26V208.18H1408.73ZM1704.08 198.64H1770.77V208.18H1704.08ZM1399.2 208.18H1418.26V217.72H1399.2ZM1685.03 208.18H1761.25V217.72H1685.03ZM1399.2 217.72H1418.26V227.26H1399.2ZM1685.03 217.72H1751.72V227.26H1685.03ZM1399.2 227.26H1408.73V236.8H1399.2ZM1685.03 227.26H1751.72V236.8H1685.03ZM1408.73 236.8H1437.31V246.34H1408.73ZM1704.08 236.8H1732.66V246.34H1704.08ZM1408.73 246.34H1437.31V255.88H1408.73ZM1713.61 246.34H1723.13V255.88H1713.61ZM1427.78 255.88H1437.31V265.42H1427.78ZM1427.78 265.42H1437.31V274.96H1427.78ZM1427.78 274.96H1446.84V284.5H1427.78ZM1427.78 284.5H1446.84V294.04H1427.78ZM1427.78 294.04H1446.84V303.58H1427.78ZM1437.31 303.58H1456.37V313.12H1437.31ZM1437.31 313.12H1456.37V322.66H1437.31ZM1437.31 322.66H1456.37V332.2H1437.31ZM1446.84 332.2H1465.89V341.74H1446.84ZM1456.37 341.74H1475.42V351.28H1456.37ZM1465.89 351.28H1484.95V360.82H1465.89ZM1484.95 360.82H1504V370.36H1484.95ZM1494.48 370.36H1504V379.9H1494.48ZM1494.48 379.9H1513.53V389.44H1494.48Z"/>
<path fill="#F0F1D7" d="M1513.53 65.08H1532.59V74.62H1513.53ZM1513.53 74.62H1523.06V84.16H1513.53ZM1570.7 74.62H1580.22V84.16H1570.7ZM1504 84.16H1523.06V93.7H1504ZM1551.64 84.16H1570.7V93.7H1551.64ZM1685.03 84.16H1704.08V93.7H1685.03ZM1494.48 93.7H1513.53V103.24H1494.48ZM1551.64 93.7H1570.7V103.24H1551.64ZM1713.61 93.7H1723.13V103.24H1713.61ZM1484.95 103.24H1504V112.78H1484.95ZM1532.59 103.24H1551.64V112.78H1532.59ZM1704.08 103.24H1742.19V112.78H1704.08ZM1475.42 112.78H1494.48V122.32H1475.42ZM1523.06 112.78H1532.59V122.32H1523.06ZM1561.17 112.78H1570.7V122.32H1561.17ZM1704.08 112.78H1742.19V122.32H1704.08ZM1465.89 122.32H1484.95V131.86H1465.89ZM1513.53 122.32H1523.06V131.86H1513.53ZM1561.17 122.32H1570.7V131.86H1561.17ZM1713.61 122.32H1742.19V131.86H1713.61ZM1465.89 131.86H1475.42V141.4H1465.89ZM1494.48 131.86H1513.53V141.4H1494.48ZM1561.17 131.86H1570.7V141.4H1561.17ZM1713.61 131.86H1751.72V141.4H1713.61ZM1456.37 141.4H1475.42V150.94H1456.37ZM1494.48 141.4H1504V150.94H1494.48ZM1551.64 141.4H1561.17V150.94H1551.64ZM1713.61 141.4H1751.72V150.94H1713.61ZM1456.37 150.94H1475.42V160.48H1456.37ZM1494.48 150.94H1504V160.48H1494.48ZM1542.11 150.94H1551.64V160.48H1542.11ZM1704.08 150.94H1742.19V160.48H1704.08ZM1446.84 160.48H1475.42V170.02H1446.84ZM1494.48 160.48H1513.53V170.02H1494.48ZM1523.06 160.48H1542.11V170.02H1523.06ZM1694.55 160.48H1732.66V170.02H1694.55ZM1446.84 170.02H1475.42V179.56H1446.84ZM1494.48 170.02H1532.59V179.56H1494.48ZM1665.97 170.02H1732.66V179.56H1665.97ZM1427.78 179.56H1475.42V189.1H1427.78ZM1494.48 179.56H1523.06V189.1H1494.48ZM1637.39 179.56H1723.13V189.1H1637.39ZM1427.78 189.1H1484.95V198.64H1427.78ZM1494.48 189.1H1513.53V198.64H1494.48ZM1627.86 189.1H1713.61V198.64H1627.86ZM1418.26 198.64H1513.53V208.18H1418.26ZM1627.86 198.64H1704.08V208.18H1627.86ZM1770.77 198.64H1780.3V208.18H1770.77ZM1418.26 208.18H1504V217.72H1418.26ZM1627.86 208.18H1685.03V217.72H1627.86ZM1761.25 208.18H1780.3V217.72H1761.25ZM1418.26 217.72H1494.48V227.26H1418.26ZM1627.86 217.72H1685.03V227.26H1627.86ZM1751.72 217.72H1780.3V227.26H1751.72ZM1408.73 227.26H1494.48V236.8H1408.73ZM1627.86 227.26H1685.03V236.8H1627.86ZM1751.72 227.26H1780.3V236.8H1751.72ZM1437.31 236.8H1484.95V246.34H1437.31ZM1646.91 236.8H1704.08V246.34H1646.91ZM1732.66 236.8H1780.3V246.34H1732.66ZM1437.31 246.34H1484.95V255.88H1437.31ZM1646.91 246.34H1713.61V255.88H1646.91ZM1723.13 246.34H1770.77V255.88H1723.13ZM1437.31 255.88H1484.95V265.42H1437.31ZM1665.97 255.88H1751.72V265.42H1665.97ZM1437.31 265.42H1484.95V274.96H1437.31ZM1685.03 265.42H1742.19V274.96H1685.03ZM1446.84 274.96H1484.95V284.5H1446.84ZM1446.84 284.5H1475.42V294.04H1446.84ZM1446.84 294.04H1475.42V303.58H1446.84ZM1456.37 303.58H1475.42V313.12H1456.37ZM1456.37 313.12H1475.42V322.66H1456.37ZM1456.37 322.66H1484.95V332.2H1456.37ZM1770.77 322.66H1780.3V332.2H1770.77ZM1465.89 332.2H1494.48V341.74H1465.89ZM1751.72 332.2H1780.3V341.74H1751.72ZM1475.42 341.74H1504V351.28H1475.42ZM1732.66 341.74H1770.77V351.28H1732.66ZM1484.95 351.28H1513.53V360.82H1484.95ZM1732.66 351.28H1751.72V360.82H1732.66ZM1504 360.82H1523.06V370.36H1504ZM1704.08 360.82H1723.13V370.36H1704.08ZM1504 370.36H1523.06V379.9H1504ZM1685.03 370.36H1704.08V379.9H1685.03ZM1513.53 379.9H1523.06V389.44H1513.53ZM1513.53 389.44H1532.59V398.98H1513.53Z"/>
<path fill="#E0F0E8" d="M1542.11 55.54H1561.17V65.08H1542.11ZM1570.7 55.54H1580.22V65.08H1570.7ZM1532.59 65.08H1551.64V74.62H1532.59ZM1561.17 65.08H1580.22V74.62H1561.17ZM1627.86 65.08H1656.44V74.62H1627.86ZM1523.06 74.62H1542.11V84.16H1523.06ZM1551.64 74.62H1570.7V84.16H1551.64ZM1637.39 74.62H1685.03V84.16H1637.39ZM1523.06 84.16H1532.59V93.7H1523.06ZM1542.11 84.16H1551.64V93.7H1542.11ZM1570.7 84.16H1580.22V93.7H1570.7ZM1646.91 84.16H1685.03V93.7H1646.91ZM1513.53 93.7H1551.64V103.24H1513.53ZM1570.7 93.7H1580.22V103.24H1570.7ZM1608.81 93.7H1637.39V103.24H1608.81ZM1646.91 93.7H1713.61V103.24H1646.91ZM1504 103.24H1532.59V112.78H1504ZM1570.7 103.24H1580.22V112.78H1570.7ZM1608.81 103.24H1704.08V112.78H1608.81ZM1494.48 112.78H1523.06V122.32H1494.48ZM1570.7 112.78H1580.22V122.32H1570.7ZM1608.81 112.78H1704.08V122.32H1608.81ZM1484.95 122.32H1513.53V131.86H1484.95ZM1570.7 122.32H1580.22V131.86H1570.7ZM1608.81 122.32H1713.61V131.86H1608.81ZM1475.42 131.86H1494.48V141.4H1475.42ZM1570.7 131.86H1580.22V141.4H1570.7ZM1608.81 131.86H1713.61V141.4H1608.81ZM1475.42 141.4H1494.48V150.94H1475.42ZM1561.17 141.4H1570.7V150.94H1561.17ZM1618.33 141.4H1713.61V150.94H1618.33ZM1475.42 150.94H1494.48V160.48H1475.42ZM1551.64 150.94H1561.17V160.48H1551.64ZM1618.33 150.94H1704.08V160.48H1618.33ZM1475.42 160.48H1494.48V170.02H1475.42ZM1542.11 160.48H1561.17V170.02H1542.11ZM1618.33 160.48H1694.55V170.02H1618.33ZM1475.42 170.02H1494.48V179.56H1475.42ZM1532.59 170.02H1551.64V179.56H1532.59ZM1618.33 170.02H1665.97V179.56H1618.33ZM1475.42 179.56H1494.48V189.1H1475.42ZM1523.06 179.56H1542.11V189.1H1523.06ZM1618.33 179.56H1637.39V189.1H1618.33ZM1484.95 189.1H1494.48V198.64H1484.95ZM1513.53 189.1H1542.11V198.64H1513.53ZM1608.81 189.1H1627.86V198.64H1608.81ZM1513.53 198.64H1532.59V208.18H1513.53ZM1608.81 198.64H1627.86V208.18H1608.81ZM1504 208.18H1523.06V217.72H1504ZM1618.33 208.18H1627.86V217.72H1618.33ZM1494.48 217.72H1513.53V227.26H1494.48ZM1608.81 217.72H1627.86V227.26H1608.81ZM1494.48 227.26H1513.53V236.8H1494.48ZM1599.28 227.26H1627.86V236.8H1599.28ZM1484.95 236.8H1513.53V246.34H1484.95ZM1608.81 236.8H1646.91V246.34H1608.81ZM1484.95 246.34H1513.53V255.88H1484.95ZM1608.81 246.34H1646.91V255.88H1608.81ZM1770.77 246.34H1780.3V255.88H1770.77ZM1484.95 255.88H1504V265.42H1484.95ZM1608.81 255.88H1665.97V265.42H1608.81ZM1751.72 255.88H1780.3V265.42H1751.72ZM1484.95 265.42H1504V274.96H1484.95ZM1637.39 265.42H1685.03V274.96H1637.39ZM1742.19 265.42H1780.3V274.96H1742.19ZM1484.95 274.96H1504V284.5H1484.95ZM1656.44 274.96H1780.3V284.5H1656.44ZM1475.42 284.5H1504V294.04H1475.42ZM1656.44 284.5H1780.3V294.04H1656.44ZM1475.42 294.04H1504V303.58H1475.42ZM1685.03 294.04H1780.3V303.58H1685.03ZM1475.42 303.58H1513.53V313.12H1475.42ZM1751.72 303.58H1780.3V313.12H1751.72ZM1475.42 313.12H1513.53V322.66H1475.42ZM1751.72 313.12H1780.3V322.66H1751.72ZM1484.95 322.66H1523.06V332.2H1484.95ZM1742.19 322.66H1770.77V332.2H1742.19ZM1494.48 332.2H1532.59V341.74H1494.48ZM1713.61 332.2H1751.72V341.74H1713.61ZM1504 341.74H1542.11V351.28H1504ZM1704.08 341.74H1732.66V351.28H1704.08ZM1513.53 351.28H1542.11V360.82H1513.53ZM1685.03 351.28H1732.66V360.82H1685.03ZM1523.06 360.82H1551.64V370.36H1523.06ZM1665.97 360.82H1704.08V370.36H1665.97ZM1523.06 370.36H1551.64V379.9H1523.06ZM1656.44 370.36H1685.03V379.9H1656.44ZM1523.06 379.9H1551.64V389.44H1523.06ZM1637.39 379.9H1685.03V389.44H1637.39ZM1532.59 389.44H1561.17V398.98H1532.59ZM1637.39 389.44H1656.44V398.98H1637.39ZM1542.11 398.98H1561.17V408.52H1542.11ZM1618.33 398.98H1627.86V408.52H1618.33ZM1561.17 408.52H1570.7V418.06H1561.17ZM1599.28 408.52H1608.81V418.06H1599.28Z"/>
<path fill="#C5E9F3" d="M1561.17 46H1608.81V55.54H1561.17ZM1561.17 55.54H1570.7V65.08H1561.17ZM1580.22 55.54H1627.86V65.08H1580.22ZM1551.64 65.08H1561.17V74.62H1551.64ZM1580.22 65.08H1627.86V74.62H1580.22ZM1542.11 74.62H1551.64V84.16H1542.11ZM1580.22 74.62H1637.39V84.16H1580.22ZM1532.59 84.16H1542.11V93.7H1532.59ZM1580.22 84.16H1646.91V93.7H1580.22ZM1580.22 93.7H1608.81V103.24H1580.22ZM1637.39 93.7H1646.91V103.24H1637.39ZM1580.22 103.24H1608.81V112.78H1580.22ZM1580.22 112.78H1608.81V122.32H1580.22ZM1580.22 122.32H1608.81V131.86H1580.22ZM1580.22 131.86H1608.81V141.4H1580.22ZM1570.7 141.4H1618.33V150.94H1570.7ZM1561.17 150.94H1618.33V160.48H1561.17ZM1561.17 160.48H1570.7V170.02H1561.17ZM1589.75 160.48H1618.33V170.02H1589.75ZM1551.64 170.02H1561.17V179.56H1551.64ZM1589.75 170.02H1618.33V179.56H1589.75ZM1542.11 179.56H1551.64V189.1H1542.11ZM1599.28 179.56H1618.33V189.1H1599.28ZM1542.11 189.1H1551.64V198.64H1542.11ZM1599.28 189.1H1608.81V198.64H1599.28ZM1532.59 198.64H1542.11V208.18H1532.59ZM1599.28 198.64H1608.81V208.18H1599.28ZM1523.06 208.18H1542.11V217.72H1523.06ZM1599.28 208.18H1618.33V217.72H1599.28ZM1513.53 217.72H1532.59V227.26H1513.53ZM1589.75 217.72H1608.81V227.26H1589.75ZM1513.53 227.26H1532.59V236.8H1513.53ZM1589.75 227.26H1599.28V236.8H1589.75ZM1513.53 236.8H1542.11V246.34H1513.53ZM1599.28 236.8H1608.81V246.34H1599.28ZM1513.53 246.34H1542.11V255.88H1513.53ZM1599.28 246.34H1608.81V255.88H1599.28ZM1504 255.88H1542.11V265.42H1504ZM1599.28 255.88H1608.81V265.42H1599.28ZM1504 265.42H1551.64V274.96H1504ZM1599.28 265.42H1637.39V274.96H1599.28ZM1504 274.96H1561.17V284.5H1504ZM1599.28 274.96H1656.44V284.5H1599.28ZM1504 284.5H1561.17V294.04H1504ZM1599.28 284.5H1656.44V294.04H1599.28ZM1504 294.04H1561.17V303.58H1504ZM1599.28 294.04H1685.03V303.58H1599.28ZM1513.53 303.58H1561.17V313.12H1513.53ZM1627.86 303.58H1751.72V313.12H1627.86ZM1513.53 313.12H1561.17V322.66H1513.53ZM1656.44 313.12H1751.72V322.66H1656.44ZM1523.06 322.66H1561.17V332.2H1523.06ZM1675.5 322.66H1742.19V332.2H1675.5ZM1532.59 332.2H1561.17V341.74H1532.59ZM1656.44 332.2H1713.61V341.74H1656.44ZM1542.11 341.74H1570.7V351.28H1542.11ZM1646.91 341.74H1704.08V351.28H1646.91ZM1542.11 351.28H1570.7V360.82H1542.11ZM1627.86 351.28H1685.03V360.82H1627.86ZM1551.64 360.82H1589.75V370.36H1551.64ZM1608.81 360.82H1665.97V370.36H1608.81ZM1551.64 370.36H1580.22V379.9H1551.64ZM1589.75 370.36H1656.44V379.9H1589.75ZM1551.64 379.9H1637.39V389.44H1551.64ZM1561.17 389.44H1637.39V398.98H1561.17ZM1561.17 398.98H1618.33V408.52H1561.17ZM1570.7 408.52H1599.28V418.06H1570.7ZM1580.22 418.06H1589.75V427.6H1580.22Z"/>
<path fill="#A4DEF2" d="M1570.7 160.48H1589.75V170.02H1570.7ZM1561.17 170.02H1589.75V179.56H1561.17ZM1551.64 179.56H1599.28V189.1H1551.64ZM1551.64 189.1H1599.28V198.64H1551.64ZM1542.11 198.64H1599.28V208.18H1542.11ZM1542.11 208.18H1599.28V217.72H1542.11ZM1532.59 217.72H1589.75V227.26H1532.59ZM1532.59 227.26H1589.75V236.8H1532.59ZM1542.11 236.8H1599.28V246.34H1542.11ZM1542.11 246.34H1599.28V255.88H1542.11ZM1542.11 255.88H1599.28V265.42H1542.11ZM1551.64 265.42H1599.28V274.96H1551.64ZM1561.17 274.96H1599.28V284.5H1561.17ZM1561.17 284.5H1599.28V294.04H1561.17ZM1561.17 294.04H1599.28V303.58H1561.17ZM1561.17 303.58H1627.86V313.12H1561.17ZM1561.17 313.12H1656.44V322.66H1561.17ZM1561.17 322.66H1675.5V332.2H1561.17ZM1561.17 332.2H1656.44V341.74H1561.17ZM1570.7 341.74H1646.91V351.28H1570.7ZM1570.7 351.28H1627.86V360.82H1570.7ZM1589.75 360.82H1608.81V370.36H1589.75ZM1580.22 370.36H1589.75V379.9H1580.22Z"/>
</g>
<g fill="none" stroke="#000" stroke-linecap="butt">
<circle cx="1585.35" cy="241.5" r="47.75" stroke-width="3.8"/>
<circle cx="1585.35" cy="241.5" r="95.5" stroke-width="3.8"/>
<circle cx="1585.35" cy="241.5" r="143.25" stroke-width="3.8"/>
<path d="M1399.2 198.73A191 191 0 1 1 1627.9 427.7M1542.8 427.7A191 191 0 0 1 1399.2 284.27" stroke-width="3.8"/>
<path d="M1399.2 46L1780.3 428.4M1399.2 428.4L1780.3 46" stroke-width="3.9"/>
<path d="M1397.4 241.5H1781.8M1585.35 429.3V44.5" stroke-width="3.8" stroke-dasharray="16.8 12.4"/>
<circle cx="1585.35" cy="241.5" r="5.3" fill="#000" stroke="none"/>
<circle cx="1688.2" cy="257.5" r="5.6" fill="#000" stroke="none"/>
</g>
<text class="t" transform="translate(1580.4 21) scale(1 1.04)" font-size="28.4" text-anchor="middle">C) Centre Distance</text>
<text transform="translate(1399.2 466.6) scale(1 1.04)" font-size="28.3" text-anchor="middle">-20°</text>
<text transform="translate(1484.6 466.6) scale(1 1.04)" font-size="28.3" text-anchor="middle">-10°</text>
<text transform="translate(1585.35 466.6) scale(1 1.04)" font-size="28.3" text-anchor="middle">0°</text>
<text transform="translate(1676.2 466.6) scale(1 1.04)" font-size="28.3" text-anchor="middle">10°</text>
<text transform="translate(1780.25 466.6) scale(1 1.04)" font-size="28.3" text-anchor="middle">20°</text>
<text transform="translate(1388.8 55.9) scale(1 1.04)" font-size="28.3" text-anchor="end">-20°</text>
<text transform="translate(1388.8 162) scale(1 1.04)" font-size="28.3" text-anchor="end">-10°</text>
<text transform="translate(1388.8 251.4) scale(1 1.04)" font-size="28.3" text-anchor="end">0°</text>
<text transform="translate(1388.8 352.9) scale(1 1.04)" font-size="28.3" text-anchor="end">+10°</text>
<text transform="translate(1388.8 438.3) scale(1 1.04)" font-size="28.3" text-anchor="end">+20°</text>
<text transform="translate(1591.1 505.2) scale(1 1.04)" font-size="28.3" text-anchor="middle">Horizontal Meridian</text>
<text transform="translate(1316.4 237.2) rotate(-90) scale(1 1.04)" font-size="28.3" text-anchor="middle">Vertical Meridian</text>
<g shape-rendering="crispEdges">
<rect x="1818.2" y="408.79" width="32.6" height="19.11" fill="#B5334F"/>
<rect x="1818.2" y="389.68" width="32.6" height="19.61" fill="#CB4557"/>
<rect x="1818.2" y="370.57" width="32.6" height="19.61" fill="#DD5860"/>
<rect x="1818.2" y="351.46" width="32.6" height="19.61" fill="#E8706B"/>
<rect x="1818.2" y="332.35" width="32.6" height="19.61" fill="#F28B7C"/>
<rect x="1818.2" y="313.24" width="32.6" height="19.61" fill="#F8A285"/>
<rect x="1818.2" y="294.13" width="32.6" height="19.61" fill="#FBBA90"/>
<rect x="1818.2" y="275.02" width="32.6" height="19.61" fill="#FDCFA0"/>
<rect x="1818.2" y="255.91" width="32.6" height="19.61" fill="#FEDFAF"/>
<rect x="1818.2" y="236.8" width="32.6" height="19.61" fill="#FBEEC0"/>
<rect x="1818.2" y="217.69" width="32.6" height="19.61" fill="#F0F1D7"/>
<rect x="1818.2" y="198.58" width="32.6" height="19.61" fill="#E0F0E8"/>
<rect x="1818.2" y="179.47" width="32.6" height="19.61" fill="#C5E9F3"/>
<rect x="1818.2" y="160.36" width="32.6" height="19.61" fill="#A4DEF2"/>
<rect x="1818.2" y="141.25" width="32.6" height="19.61" fill="#7DD4F1"/>
<rect x="1818.2" y="122.14" width="32.6" height="19.61" fill="#52CBF2"/>
<rect x="1818.2" y="103.03" width="32.6" height="19.61" fill="#2BBEF0"/>
<rect x="1818.2" y="83.92" width="32.6" height="19.61" fill="#00ADE6"/>
<rect x="1818.2" y="64.81" width="32.6" height="19.61" fill="#0092D2"/>
<rect x="1818.2" y="45.7" width="32.6" height="19.61" fill="#0077C0"/>
</g>
<text transform="translate(1861.1 438.6) scale(1 1.04)" font-size="28.3">0</text>
<text transform="translate(1861.1 400.38) scale(1 1.04)" font-size="28.3">0.1</text>
<text transform="translate(1861.1 362.16) scale(1 1.04)" font-size="28.3">0.2</text>
<text transform="translate(1861.1 323.94) scale(1 1.04)" font-size="28.3">0.3</text>
<text transform="translate(1861.1 285.72) scale(1 1.04)" font-size="28.3">0.4</text>
<text transform="translate(1861.1 247.5) scale(1 1.04)" font-size="28.3">0.5</text>
<text transform="translate(1861.1 209.28) scale(1 1.04)" font-size="28.3">0.6</text>
<text transform="translate(1861.1 171.06) scale(1 1.04)" font-size="28.3">0.7</text>
<text transform="translate(1861.1 132.84) scale(1 1.04)" font-size="28.3">0.8</text>
<text transform="translate(1861.1 94.62) scale(1 1.04)" font-size="28.3">0.9</text>
<text transform="translate(1861.1 56.4) scale(1 1.04)" font-size="28.3">1</text>
<path d="M1850.8 389.68h-5.6M1850.8 351.46h-5.6M1850.8 313.24h-5.6M1850.8 275.02h-5.6M1850.8 236.8h-5.6M1850.8 198.58h-5.6M1850.8 160.36h-5.6M1850.8 122.14h-5.6M1850.8 83.92h-5.6" stroke="#262626" stroke-width="3" fill="none"/>
<rect x="1818.2" y="45.7" width="32.6" height="382.2" fill="none" stroke="#262626" stroke-width="3.5"/>
</g>
<g class="panel">
<path d="M188.8 985.5v-5.5M188.8 603.1v5.5M289.55 985.5v-5.5M289.55 603.1v5.5M380.4 985.5v-5.5M380.4 603.1v5.5M103.4 709.2h5.5M484.5 709.2h-5.5M103.4 798.6h5.5M484.5 798.6h-5.5M103.4 900.1h5.5M484.5 900.1h-5.5" stroke="#262626" stroke-width="3.4" fill="none"/>
<rect x="102.9" y="603.1" width="381.6" height="382.4" fill="none" stroke="#262626" stroke-width="3.8"/>
<g shape-rendering="crispEdges" stroke="none">
<path fill="#F28B7C" d="M265.37 603.1H313V612.64H265.37ZM255.84 612.64H332.06V622.18H255.84ZM246.31 622.18H360.64V631.72H246.31ZM246.31 631.72H389.23V641.26H246.31ZM236.78 641.26H408.28V650.8H236.78ZM236.78 650.8H417.81V660.34H236.78ZM246.31 660.34H436.86V669.88H246.31ZM246.31 669.88H455.92V679.42H246.31ZM246.31 679.42H474.97V688.96H246.31ZM246.31 688.96H484.5V698.5H246.31ZM255.84 698.5H332.06V708.04H255.84ZM379.7 698.5H484.5V708.04H379.7ZM255.84 708.04H322.53V717.58H255.84ZM379.7 708.04H484.5V717.58H379.7ZM255.84 717.58H313V727.12H255.84ZM379.7 717.58H484.5V727.12H379.7ZM255.84 727.12H303.48V736.66H255.84ZM379.7 727.12H484.5V736.66H379.7ZM255.84 736.66H293.95V746.2H255.84ZM379.7 736.66H484.5V746.2H379.7ZM379.7 746.2H484.5V755.74H379.7ZM379.7 755.74H484.5V765.28H379.7ZM379.7 765.28H474.97V774.82H379.7ZM379.7 774.82H465.45V784.36H379.7ZM379.7 784.36H465.45V793.9H379.7ZM408.28 793.9H484.5V803.44H408.28ZM370.17 803.44H379.7V812.98H370.17ZM446.39 803.44H484.5V812.98H446.39ZM370.17 812.98H379.7V822.52H370.17ZM455.92 812.98H474.97V822.52H455.92ZM360.64 822.52H379.7V832.06H360.64ZM284.42 832.06H293.95V841.6H284.42ZM351.12 832.06H370.17V841.6H351.12ZM274.89 841.6H322.53V851.14H274.89ZM341.59 841.6H370.17V851.14H341.59ZM274.89 851.14H332.06V860.68H274.89ZM341.59 851.14H360.64V860.68H341.59ZM265.37 860.68H360.64V870.22H265.37ZM255.84 870.22H360.64V879.76H255.84ZM255.84 879.76H360.64V889.3H255.84ZM255.84 889.3H360.64V898.84H255.84ZM255.84 898.84H360.64V908.38H255.84ZM265.37 908.38H360.64V917.92H265.37ZM265.37 917.92H360.64V927.46H265.37ZM265.37 927.46H360.64V937H265.37ZM265.37 937H351.12V946.54H265.37ZM265.37 946.54H341.59V956.08H265.37ZM274.89 956.08H332.06V965.62H274.89ZM274.89 965.62H313V975.16H274.89ZM284.42 975.16H293.95V984.7H284.42Z"/>
<path fill="#F8A285" d="M246.31 612.64H255.84V622.18H246.31ZM217.73 622.18H246.31V631.72H217.73ZM208.2 631.72H246.31V641.26H208.2ZM198.68 641.26H236.78V650.8H198.68ZM198.68 650.8H236.78V660.34H198.68ZM417.81 650.8H427.34V660.34H417.81ZM189.15 660.34H246.31V669.88H189.15ZM436.86 660.34H455.92V669.88H436.86ZM189.15 669.88H246.31V679.42H189.15ZM455.92 669.88H474.97V679.42H455.92ZM179.62 679.42H246.31V688.96H179.62ZM474.97 679.42H484.5V688.96H474.97ZM179.62 688.96H246.31V698.5H179.62ZM179.62 698.5H255.84V708.04H179.62ZM332.06 698.5H379.7V708.04H332.06ZM179.62 708.04H255.84V717.58H179.62ZM322.53 708.04H379.7V717.58H322.53ZM189.15 717.58H255.84V727.12H189.15ZM313 717.58H379.7V727.12H313ZM198.68 727.12H255.84V736.66H198.68ZM303.48 727.12H379.7V736.66H303.48ZM198.68 736.66H255.84V746.2H198.68ZM293.95 736.66H379.7V746.2H293.95ZM217.73 746.2H379.7V755.74H217.73ZM217.73 755.74H379.7V765.28H217.73ZM217.73 765.28H379.7V774.82H217.73ZM474.97 765.28H484.5V774.82H474.97ZM217.73 774.82H379.7V784.36H217.73ZM465.45 774.82H484.5V784.36H465.45ZM217.73 784.36H379.7V793.9H217.73ZM465.45 784.36H484.5V793.9H465.45ZM217.73 793.9H408.28V803.44H217.73ZM217.73 803.44H370.17V812.98H217.73ZM379.7 803.44H446.39V812.98H379.7ZM217.73 812.98H370.17V822.52H217.73ZM379.7 812.98H455.92V822.52H379.7ZM474.97 812.98H484.5V822.52H474.97ZM217.73 822.52H360.64V832.06H217.73ZM379.7 822.52H484.5V832.06H379.7ZM217.73 832.06H284.42V841.6H217.73ZM293.95 832.06H351.12V841.6H293.95ZM370.17 832.06H484.5V841.6H370.17ZM217.73 841.6H274.89V851.14H217.73ZM322.53 841.6H341.59V851.14H322.53ZM370.17 841.6H484.5V851.14H370.17ZM217.73 851.14H274.89V860.68H217.73ZM332.06 851.14H341.59V860.68H332.06ZM360.64 851.14H484.5V860.68H360.64ZM217.73 860.68H265.37V870.22H217.73ZM360.64 860.68H484.5V870.22H360.64ZM208.2 870.22H255.84V879.76H208.2ZM360.64 870.22H474.97V879.76H360.64ZM208.2 879.76H255.84V889.3H208.2ZM360.64 879.76H465.45V889.3H360.64ZM208.2 889.3H255.84V898.84H208.2ZM360.64 889.3H465.45V898.84H360.64ZM208.2 898.84H255.84V908.38H208.2ZM360.64 898.84H455.92V908.38H360.64ZM227.26 908.38H265.37V917.92H227.26ZM360.64 908.38H446.39V917.92H360.64ZM227.26 917.92H265.37V927.46H227.26ZM360.64 917.92H427.34V927.46H360.64ZM236.78 927.46H265.37V937H236.78ZM360.64 927.46H408.28V937H360.64ZM236.78 937H265.37V946.54H236.78ZM351.12 937H389.23V946.54H351.12ZM246.31 946.54H265.37V956.08H246.31ZM341.59 946.54H360.64V956.08H341.59ZM255.84 956.08H274.89V965.62H255.84ZM265.37 965.62H274.89V975.16H265.37Z"/>
<path fill="#FBBA90" d="M198.68 631.72H208.2V641.26H198.68ZM170.09 641.26H198.68V650.8H170.09ZM160.56 650.8H198.68V660.34H160.56ZM151.04 660.34H189.15V669.88H151.04ZM151.04 669.88H189.15V679.42H151.04ZM141.51 679.42H179.62V688.96H141.51ZM141.51 688.96H179.62V698.5H141.51ZM151.04 698.5H179.62V708.04H151.04ZM151.04 708.04H179.62V717.58H151.04ZM160.56 717.58H189.15V727.12H160.56ZM160.56 727.12H198.68V736.66H160.56ZM170.09 736.66H198.68V746.2H170.09ZM170.09 746.2H217.73V755.74H170.09ZM170.09 755.74H217.73V765.28H170.09ZM170.09 765.28H217.73V774.82H170.09ZM170.09 774.82H217.73V784.36H170.09ZM179.62 784.36H217.73V793.9H179.62ZM179.62 793.9H217.73V803.44H179.62ZM179.62 803.44H217.73V812.98H179.62ZM179.62 812.98H217.73V822.52H179.62ZM179.62 822.52H217.73V832.06H179.62ZM179.62 832.06H217.73V841.6H179.62ZM179.62 841.6H217.73V851.14H179.62ZM179.62 851.14H217.73V860.68H179.62ZM179.62 860.68H217.73V870.22H179.62ZM179.62 870.22H208.2V879.76H179.62ZM474.97 870.22H484.5V879.76H474.97ZM189.15 879.76H208.2V889.3H189.15ZM465.45 879.76H484.5V889.3H465.45ZM189.15 889.3H208.2V898.84H189.15ZM465.45 889.3H484.5V898.84H465.45ZM198.68 898.84H208.2V908.38H198.68ZM455.92 898.84H474.97V908.38H455.92ZM208.2 908.38H227.26V917.92H208.2ZM446.39 908.38H455.92V917.92H446.39ZM208.2 917.92H227.26V927.46H208.2ZM217.73 927.46H236.78V937H217.73ZM217.73 937H236.78V946.54H217.73ZM227.26 946.54H246.31V956.08H227.26ZM246.31 956.08H255.84V965.62H246.31Z"/>
<path fill="#FDCFA0" d="M151.04 650.8H160.56V660.34H151.04ZM122.46 660.34H151.04V669.88H122.46ZM112.93 669.88H151.04V679.42H112.93ZM103.4 679.42H141.51V688.96H103.4ZM103.4 688.96H141.51V698.5H103.4ZM112.93 698.5H151.04V708.04H112.93ZM112.93 708.04H151.04V717.58H112.93ZM122.46 717.58H160.56V727.12H122.46ZM122.46 727.12H160.56V736.66H122.46ZM131.98 736.66H170.09V746.2H131.98ZM131.98 746.2H170.09V755.74H131.98ZM141.51 755.74H170.09V765.28H141.51ZM141.51 765.28H170.09V774.82H141.51ZM141.51 774.82H170.09V784.36H141.51ZM151.04 784.36H179.62V793.9H151.04ZM151.04 793.9H179.62V803.44H151.04ZM160.56 803.44H179.62V812.98H160.56ZM160.56 812.98H179.62V822.52H160.56ZM160.56 822.52H179.62V832.06H160.56ZM160.56 832.06H179.62V841.6H160.56ZM160.56 841.6H179.62V851.14H160.56ZM160.56 851.14H179.62V860.68H160.56ZM160.56 860.68H179.62V870.22H160.56ZM170.09 870.22H179.62V879.76H170.09ZM170.09 879.76H189.15V889.3H170.09ZM170.09 889.3H189.15V898.84H170.09ZM179.62 898.84H198.68V908.38H179.62ZM189.15 908.38H208.2V917.92H189.15ZM189.15 917.92H208.2V927.46H189.15ZM198.68 927.46H217.73V937H198.68ZM198.68 937H217.73V946.54H198.68ZM217.73 946.54H227.26V956.08H217.73Z"/>
<path fill="#FEDFAF" d="M103.4 669.88H112.93V679.42H103.4ZM103.4 698.5H112.93V708.04H103.4ZM103.4 708.04H112.93V717.58H103.4ZM103.4 717.58H122.46V727.12H103.4ZM103.4 727.12H122.46V736.66H103.4ZM103.4 736.66H131.98V746.2H103.4ZM103.4 746.2H131.98V755.74H103.4ZM112.93 755.74H141.51V765.28H112.93ZM112.93 765.28H141.51V774.82H112.93ZM112.93 774.82H141.51V784.36H112.93ZM122.46 784.36H151.04V793.9H122.46ZM122.46 793.9H151.04V803.44H122.46ZM131.98 803.44H160.56V812.98H131.98ZM131.98 812.98H160.56V822.52H131.98ZM141.51 822.52H160.56V832.06H141.51ZM141.51 832.06H160.56V841.6H141.51ZM141.51 841.6H160.56V851.14H141.51ZM141.51 851.14H160.56V860.68H141.51ZM141.51 860.68H160.56V870.22H141.51ZM151.04 870.22H170.09V879.76H151.04ZM151.04 879.76H170.09V889.3H151.04ZM151.04 889.3H170.09V898.84H151.04ZM151.04 898.84H179.62V908.38H151.04ZM170.09 908.38H189.15V917.92H170.09ZM170.09 917.92H189.15V927.46H170.09ZM179.62 927.46H198.68V937H179.62Z"/>
<path fill="#FBEEC0" d="M103.4 755.74H112.93V765.28H103.4ZM103.4 765.28H112.93V774.82H103.4ZM103.4 774.82H112.93V784.36H103.4ZM103.4 784.36H122.46V793.9H103.4ZM103.4 793.9H122.46V803.44H103.4ZM103.4 803.44H131.98V812.98H103.4ZM103.4 812.98H131.98V822.52H103.4ZM122.46 822.52H141.51V832.06H122.46ZM122.46 832.06H141.51V841.6H122.46ZM122.46 841.6H141.51V851.14H122.46ZM122.46 851.14H141.51V860.68H122.46ZM122.46 860.68H141.51V870.22H122.46ZM122.46 870.22H151.04V879.76H122.46ZM131.98 879.76H151.04V889.3H131.98ZM131.98 889.3H151.04V898.84H131.98ZM131.98 898.84H151.04V908.38H131.98ZM141.51 908.38H170.09V917.92H141.51ZM151.04 917.92H170.09V927.46H151.04ZM170.09 927.46H179.62V937H170.09Z"/>
<path fill="#F0F1D7" d="M103.4 822.52H122.46V832.06H103.4ZM103.4 832.06H122.46V841.6H103.4ZM103.4 841.6H122.46V851.14H103.4ZM103.4 851.14H122.46V860.68H103.4ZM103.4 860.68H122.46V870.22H103.4ZM103.4 870.22H122.46V879.76H103.4ZM103.4 879.76H131.98V889.3H103.4ZM112.93 889.3H131.98V898.84H112.93ZM112.93 898.84H131.98V908.38H112.93ZM122.46 908.38H141.51V917.92H122.46Z"/>
<path fill="#E0F0E8" d="M103.4 889.3H112.93V898.84H103.4ZM103.4 898.84H112.93V908.38H103.4Z"/>
</g>
<g fill="none" stroke="#000" stroke-linecap="butt">
<circle cx="289.55" cy="798.6" r="47.75" stroke-width="3.8"/>
<circle cx="289.55" cy="798.6" r="95.5" stroke-width="3.8"/>
<circle cx="289.55" cy="798.6" r="143.25" stroke-width="3.8"/>
<path d="M103.4 755.83A191 191 0 1 1 332.1 984.8M247 984.8A191 191 0 0 1 103.4 841.37" stroke-width="3.8"/>
<path d="M103.4 603.1L484.5 985.5M103.4 985.5L484.5 603.1" stroke-width="3.9"/>
<path d="M101.6 798.6H486M289.55 986.4V601.6" stroke-width="3.8" stroke-dasharray="16.8 12.4"/>
<circle cx="289.55" cy="798.6" r="5.3" fill="#000" stroke="none"/>
<circle cx="392.4" cy="814.6" r="5.6" fill="#000" stroke="none"/>
</g>
<text class="t" transform="translate(284.6 578.1) scale(1 1.04)" font-size="28.4" text-anchor="middle">D) Naked Eye - Neural limit</text>
<text transform="translate(103.4 1023.7) scale(1 1.04)" font-size="28.3" text-anchor="middle">-20°</text>
<text transform="translate(188.8 1023.7) scale(1 1.04)" font-size="28.3" text-anchor="middle">-10°</text>
<text transform="translate(289.55 1023.7) scale(1 1.04)" font-size="28.3" text-anchor="middle">0°</text>
<text transform="translate(380.4 1023.7) scale(1 1.04)" font-size="28.3" text-anchor="middle">10°</text>
<text transform="translate(484.45 1023.7) scale(1 1.04)" font-size="28.3" text-anchor="middle">20°</text>
<text transform="translate(93 613) scale(1 1.04)" font-size="28.3" text-anchor="end">-20°</text>
<text transform="translate(93 719.1) scale(1 1.04)" font-size="28.3" text-anchor="end">-10°</text>
<text transform="translate(93 808.5) scale(1 1.04)" font-size="28.3" text-anchor="end">0°</text>
<text transform="translate(93 910) scale(1 1.04)" font-size="28.3" text-anchor="end">+10°</text>
<text transform="translate(93 995.4) scale(1 1.04)" font-size="28.3" text-anchor="end">+20°</text>
<text transform="translate(295.3 1062.3) scale(1 1.04)" font-size="28.3" text-anchor="middle">Horizontal Meridian</text>
<text transform="translate(20.6 794.3) rotate(-90) scale(1 1.04)" font-size="28.3" text-anchor="middle">Vertical Meridian</text>
<g shape-rendering="crispEdges">
<rect x="522.4" y="946.78" width="32.6" height="38.22" fill="#B5334F"/>
<rect x="522.4" y="908.56" width="32.6" height="38.72" fill="#CB4557"/>
<rect x="522.4" y="870.34" width="32.6" height="38.72" fill="#DD5860"/>
<rect x="522.4" y="832.12" width="32.6" height="38.72" fill="#E8706B"/>
<rect x="522.4" y="793.9" width="32.6" height="38.72" fill="#F28B7C"/>
<rect x="522.4" y="755.68" width="32.6" height="38.72" fill="#F8A285"/>
<rect x="522.4" y="717.46" width="32.6" height="38.72" fill="#FBBA90"/>
<rect x="522.4" y="679.24" width="32.6" height="38.72" fill="#FDCFA0"/>
<rect x="522.4" y="641.02" width="32.6" height="38.72" fill="#FEDFAF"/>
<rect x="522.4" y="602.8" width="32.6" height="38.72" fill="#FBEEC0"/>
</g>
<text transform="translate(565.3 995.7) scale(1 1.04)" font-size="28.3">0</text>
<text transform="translate(565.3 919.26) scale(1 1.04)" font-size="28.3">0.1</text>
<text transform="translate(565.3 842.82) scale(1 1.04)" font-size="28.3">0.2</text>
<text transform="translate(565.3 766.38) scale(1 1.04)" font-size="28.3">0.3</text>
<text transform="translate(565.3 689.94) scale(1 1.04)" font-size="28.3">0.4</text>
<text transform="translate(565.3 613.5) scale(1 1.04)" font-size="28.3">0.5</text>
<path d="M555 908.56h-5.6M555 832.12h-5.6M555 755.68h-5.6M555 679.24h-5.6" stroke="#262626" stroke-width="3" fill="none"/>
<rect x="522.4" y="602.8" width="32.6" height="382.2" fill="none" stroke="#262626" stroke-width="3.5"/>
</g>
<g class="panel">
<path d="M836.8 985.5v-5.5M836.8 603.1v5.5M937.55 985.5v-5.5M937.55 603.1v5.5M1028.4 985.5v-5.5M1028.4 603.1v5.5M751.4 709.2h5.5M1132.5 709.2h-5.5M751.4 798.6h5.5M1132.5 798.6h-5.5M751.4 900.1h5.5M1132.5 900.1h-5.5" stroke="#262626" stroke-width="3.4" fill="none"/>
<rect x="750.9" y="603.1" width="381.6" height="382.4" fill="none" stroke="#262626" stroke-width="3.8"/>
<g shape-rendering="crispEdges" stroke="none">
<path fill="#FBBA90" d="M913.37 603.1H961V612.64H913.37ZM894.31 612.64H980.06V622.18H894.31ZM865.73 622.18H961V631.72H865.73ZM980.06 622.18H1008.64V631.72H980.06ZM856.2 631.72H951.48V641.26H856.2ZM837.15 641.26H951.48V650.8H837.15ZM818.09 650.8H846.67V660.34H818.09ZM894.31 650.8H951.48V660.34H894.31ZM903.84 660.34H951.48V669.88H903.84ZM913.37 669.88H951.48V679.42H913.37ZM913.37 679.42H941.95V688.96H913.37ZM922.89 688.96H941.95V698.5H922.89ZM760.93 736.66H770.45V746.2H760.93ZM751.4 746.2H770.45V755.74H751.4ZM751.4 755.74H770.45V765.28H751.4ZM751.4 765.28H770.45V774.82H751.4ZM1084.86 765.28H1132.5V774.82H1084.86ZM751.4 774.82H770.45V784.36H751.4ZM1065.81 774.82H1132.5V784.36H1065.81ZM751.4 784.36H770.45V793.9H751.4ZM1046.75 784.36H1132.5V793.9H1046.75ZM1075.34 793.9H1132.5V803.44H1075.34ZM1084.86 803.44H1132.5V812.98H1084.86ZM1018.17 812.98H1065.81V822.52H1018.17ZM1094.39 812.98H1132.5V822.52H1094.39ZM1018.17 822.52H1065.81V832.06H1018.17ZM1113.44 822.52H1132.5V832.06H1113.44ZM751.4 832.06H760.93V841.6H751.4ZM1008.64 832.06H1065.81V841.6H1008.64ZM999.12 841.6H1056.28V851.14H999.12ZM989.59 851.14H1056.28V860.68H989.59ZM989.59 860.68H1056.28V870.22H989.59ZM970.53 870.22H1046.75V879.76H970.53ZM1008.64 879.76H1046.75V889.3H1008.64ZM1008.64 889.3H1027.7V898.84H1008.64Z"/>
<path fill="#FDCFA0" d="M961 622.18H980.06V631.72H961ZM846.67 631.72H856.2V641.26H846.67ZM951.48 631.72H1037.22V641.26H951.48ZM818.09 641.26H837.15V650.8H818.09ZM951.48 641.26H1056.28V650.8H951.48ZM799.04 650.8H818.09V660.34H799.04ZM846.67 650.8H894.31V660.34H846.67ZM951.48 650.8H1075.34V660.34H951.48ZM770.45 660.34H903.84V669.88H770.45ZM951.48 660.34H999.12V669.88H951.48ZM1037.22 660.34H1103.92V669.88H1037.22ZM760.93 669.88H913.37V679.42H760.93ZM951.48 669.88H989.59V679.42H951.48ZM1113.44 669.88H1122.97V679.42H1113.44ZM751.4 679.42H913.37V688.96H751.4ZM941.95 679.42H989.59V688.96H941.95ZM751.4 688.96H922.89V698.5H751.4ZM941.95 688.96H980.06V698.5H941.95ZM751.4 698.5H884.78V708.04H751.4ZM922.89 698.5H961V708.04H922.89ZM751.4 708.04H837.15V717.58H751.4ZM856.2 708.04H875.26V717.58H856.2ZM922.89 708.04H961V717.58H922.89ZM751.4 717.58H827.62V727.12H751.4ZM932.42 717.58H951.48V727.12H932.42ZM1075.34 717.58H1132.5V727.12H1075.34ZM751.4 727.12H818.09V736.66H751.4ZM1065.81 727.12H1132.5V736.66H1065.81ZM751.4 736.66H760.93V746.2H751.4ZM770.45 736.66H818.09V746.2H770.45ZM1046.75 736.66H1132.5V746.2H1046.75ZM770.45 746.2H808.56V755.74H770.45ZM1027.7 746.2H1132.5V755.74H1027.7ZM770.45 755.74H808.56V765.28H770.45ZM1027.7 755.74H1132.5V765.28H1027.7ZM770.45 765.28H799.04V774.82H770.45ZM1027.7 765.28H1084.86V774.82H1027.7ZM770.45 774.82H799.04V784.36H770.45ZM1027.7 774.82H1065.81V784.36H1027.7ZM770.45 784.36H799.04V793.9H770.45ZM1018.17 784.36H1046.75V793.9H1018.17ZM751.4 793.9H779.98V803.44H751.4ZM1008.64 793.9H1075.34V803.44H1008.64ZM751.4 803.44H779.98V812.98H751.4ZM999.12 803.44H1084.86V812.98H999.12ZM751.4 812.98H770.45V822.52H751.4ZM999.12 812.98H1018.17V822.52H999.12ZM1065.81 812.98H1094.39V822.52H1065.81ZM751.4 822.52H770.45V832.06H751.4ZM1008.64 822.52H1018.17V832.06H1008.64ZM1065.81 822.52H1113.44V832.06H1065.81ZM760.93 832.06H770.45V841.6H760.93ZM999.12 832.06H1008.64V841.6H999.12ZM1065.81 832.06H1132.5V841.6H1065.81ZM751.4 841.6H760.93V851.14H751.4ZM989.59 841.6H999.12V851.14H989.59ZM1056.28 841.6H1132.5V851.14H1056.28ZM970.53 851.14H989.59V860.68H970.53ZM1056.28 851.14H1132.5V860.68H1056.28ZM961 860.68H989.59V870.22H961ZM1056.28 860.68H1132.5V870.22H1056.28ZM922.89 870.22H970.53V879.76H922.89ZM1046.75 870.22H1132.5V879.76H1046.75ZM827.62 879.76H884.78V889.3H827.62ZM903.84 879.76H1008.64V889.3H903.84ZM1046.75 879.76H1132.5V889.3H1046.75ZM951.48 889.3H1008.64V898.84H951.48ZM1027.7 889.3H1065.81V898.84H1027.7ZM1075.34 889.3H1122.97V898.84H1075.34ZM951.48 898.84H1103.92V908.38H951.48ZM961 908.38H1075.34V917.92H961Z"/>
<path fill="#FEDFAF" d="M999.12 660.34H1037.22V669.88H999.12ZM751.4 669.88H760.93V679.42H751.4ZM989.59 669.88H1113.44V679.42H989.59ZM989.59 679.42H1132.5V688.96H989.59ZM980.06 688.96H1132.5V698.5H980.06ZM884.78 698.5H922.89V708.04H884.78ZM961 698.5H1132.5V708.04H961ZM837.15 708.04H856.2V717.58H837.15ZM875.26 708.04H922.89V717.58H875.26ZM961 708.04H1008.64V717.58H961ZM1018.17 708.04H1132.5V717.58H1018.17ZM827.62 717.58H932.42V727.12H827.62ZM951.48 717.58H999.12V727.12H951.48ZM1018.17 717.58H1075.34V727.12H1018.17ZM818.09 727.12H980.06V736.66H818.09ZM1018.17 727.12H1065.81V736.66H1018.17ZM818.09 736.66H884.78V746.2H818.09ZM913.37 736.66H970.53V746.2H913.37ZM1018.17 736.66H1046.75V746.2H1018.17ZM808.56 746.2H875.26V755.74H808.56ZM922.89 746.2H951.48V755.74H922.89ZM1018.17 746.2H1027.7V755.74H1018.17ZM808.56 755.74H865.73V765.28H808.56ZM1018.17 755.74H1027.7V765.28H1018.17ZM799.04 765.28H856.2V774.82H799.04ZM1008.64 765.28H1027.7V774.82H1008.64ZM799.04 774.82H856.2V784.36H799.04ZM999.12 774.82H1027.7V784.36H999.12ZM799.04 784.36H846.67V793.9H799.04ZM989.59 784.36H1018.17V793.9H989.59ZM779.98 793.9H837.15V803.44H779.98ZM989.59 793.9H1008.64V803.44H989.59ZM779.98 803.44H827.62V812.98H779.98ZM989.59 803.44H999.12V812.98H989.59ZM770.45 812.98H846.67V822.52H770.45ZM951.48 812.98H961V822.52H951.48ZM980.06 812.98H999.12V822.52H980.06ZM770.45 822.52H856.2V832.06H770.45ZM903.84 822.52H951.48V832.06H903.84ZM980.06 822.52H1008.64V832.06H980.06ZM770.45 832.06H856.2V841.6H770.45ZM894.31 832.06H999.12V841.6H894.31ZM760.93 841.6H865.73V851.14H760.93ZM894.31 841.6H989.59V851.14H894.31ZM751.4 851.14H970.53V860.68H751.4ZM751.4 860.68H961V870.22H751.4ZM751.4 870.22H922.89V879.76H751.4ZM751.4 879.76H827.62V889.3H751.4ZM884.78 879.76H903.84V889.3H884.78ZM751.4 889.3H951.48V898.84H751.4ZM1065.81 889.3H1075.34V898.84H1065.81ZM1122.97 889.3H1132.5V898.84H1122.97ZM760.93 898.84H951.48V908.38H760.93ZM1103.92 898.84H1122.97V908.38H1103.92ZM799.04 908.38H961V917.92H799.04ZM1075.34 908.38H1103.92V917.92H1075.34ZM846.67 917.92H1075.34V927.46H846.67ZM941.95 927.46H1008.64V937H941.95Z"/>
<path fill="#FBEEC0" d="M1008.64 708.04H1018.17V717.58H1008.64ZM999.12 717.58H1018.17V727.12H999.12ZM980.06 727.12H1018.17V736.66H980.06ZM884.78 736.66H913.37V746.2H884.78ZM970.53 736.66H1018.17V746.2H970.53ZM875.26 746.2H922.89V755.74H875.26ZM951.48 746.2H1018.17V755.74H951.48ZM865.73 755.74H1018.17V765.28H865.73ZM856.2 765.28H884.78V774.82H856.2ZM894.31 765.28H1008.64V774.82H894.31ZM856.2 774.82H875.26V784.36H856.2ZM903.84 774.82H999.12V784.36H903.84ZM846.67 784.36H875.26V793.9H846.67ZM903.84 784.36H989.59V793.9H903.84ZM837.15 793.9H989.59V803.44H837.15ZM827.62 803.44H875.26V812.98H827.62ZM884.78 803.44H989.59V812.98H884.78ZM846.67 812.98H951.48V822.52H846.67ZM961 812.98H980.06V822.52H961ZM856.2 822.52H903.84V832.06H856.2ZM951.48 822.52H980.06V832.06H951.48ZM856.2 832.06H894.31V841.6H856.2ZM865.73 841.6H894.31V851.14H865.73ZM789.51 908.38H799.04V917.92H789.51ZM808.56 917.92H846.67V927.46H808.56ZM818.09 927.46H941.95V937H818.09ZM1008.64 927.46H1056.28V937H1008.64ZM856.2 937H1037.22V946.54H856.2ZM875.26 946.54H1008.64V956.08H875.26ZM894.31 956.08H980.06V965.62H894.31Z"/>
<path fill="#F0F1D7" d="M884.78 765.28H894.31V774.82H884.78ZM875.26 774.82H903.84V784.36H875.26ZM875.26 784.36H903.84V793.9H875.26ZM875.26 803.44H884.78V812.98H875.26ZM751.4 898.84H760.93V908.38H751.4ZM770.45 908.38H789.51V917.92H770.45ZM799.04 917.92H808.56V927.46H799.04ZM846.67 937H856.2V946.54H846.67ZM865.73 946.54H875.26V956.08H865.73ZM913.37 965.62H961V975.16H913.37ZM932.42 975.16H941.95V984.7H932.42Z"/>
</g>
<g fill="none" stroke="#000" stroke-linecap="butt">
<circle cx="937.55" cy="798.6" r="47.75" stroke-width="3.8"/>
<circle cx="937.55" cy="798.6" r="95.5" stroke-width="3.8"/>
<circle cx="937.55" cy="798.6" r="143.25" stroke-width="3.8"/>
<path d="M751.4 755.83A191 191 0 1 1 980.1 984.8M895 984.8A191 191 0 0 1 751.4 841.37" stroke-width="3.8"/>
<path d="M751.4 603.1L1132.5 985.5M751.4 985.5L1132.5 603.1" stroke-width="3.9"/>
<path d="M749.6 798.6H1134M937.55 986.4V601.6" stroke-width="3.8" stroke-dasharray="16.8 12.4"/>
<circle cx="937.55" cy="798.6" r="5.3" fill="#000" stroke="none"/>
<circle cx="1040.4" cy="814.6" r="5.6" fill="#000" stroke="none"/>
</g>
<text class="t" transform="translate(932.6 578.1) scale(1 1.04)" font-size="28.4" text-anchor="middle">E) Centre Near - Neural Limit</text>
<text transform="translate(751.4 1023.7) scale(1 1.04)" font-size="28.3" text-anchor="middle">-20°</text>
<text transform="translate(836.8 1023.7) scale(1 1.04)" font-size="28.3" text-anchor="middle">-10°</text>
<text transform="translate(937.55 1023.7) scale(1 1.04)" font-size="28.3" text-anchor="middle">0°</text>
<text transform="translate(1028.4 1023.7) scale(1 1.04)" font-size="28.3" text-anchor="middle">10°</text>
<text transform="translate(1132.45 1023.7) scale(1 1.04)" font-size="28.3" text-anchor="middle">20°</text>
<text transform="translate(741 613) scale(1 1.04)" font-size="28.3" text-anchor="end">-20°</text>
<text transform="translate(741 719.1) scale(1 1.04)" font-size="28.3" text-anchor="end">-10°</text>
<text transform="translate(741 808.5) scale(1 1.04)" font-size="28.3" text-anchor="end">0°</text>
<text transform="translate(741 910) scale(1 1.04)" font-size="28.3" text-anchor="end">+10°</text>
<text transform="translate(741 995.4) scale(1 1.04)" font-size="28.3" text-anchor="end">+20°</text>
<text transform="translate(943.3 1062.3) scale(1 1.04)" font-size="28.3" text-anchor="middle">Horizontal Meridian</text>
<text transform="translate(668.6 794.3) rotate(-90) scale(1 1.04)" font-size="28.3" text-anchor="middle">Vertical Meridian</text>
<g shape-rendering="crispEdges">
<rect x="1170.4" y="946.78" width="32.6" height="38.22" fill="#B5334F"/>
<rect x="1170.4" y="908.56" width="32.6" height="38.72" fill="#CB4557"/>
<rect x="1170.4" y="870.34" width="32.6" height="38.72" fill="#DD5860"/>
<rect x="1170.4" y="832.12" width="32.6" height="38.72" fill="#E8706B"/>
<rect x="1170.4" y="793.9" width="32.6" height="38.72" fill="#F28B7C"/>
<rect x="1170.4" y="755.68" width="32.6" height="38.72" fill="#F8A285"/>
<rect x="1170.4" y="717.46" width="32.6" height="38.72" fill="#FBBA90"/>
<rect x="1170.4" y="679.24" width="32.6" height="38.72" fill="#FDCFA0"/>
<rect x="1170.4" y="641.02" width="32.6" height="38.72" fill="#FEDFAF"/>
<rect x="1170.4" y="602.8" width="32.6" height="38.72" fill="#FBEEC0"/>
</g>
<text transform="translate(1213.3 995.7) scale(1 1.04)" font-size="28.3">0</text>
<text transform="translate(1213.3 919.26) scale(1 1.04)" font-size="28.3">0.1</text>
<text transform="translate(1213.3 842.82) scale(1 1.04)" font-size="28.3">0.2</text>
<text transform="translate(1213.3 766.38) scale(1 1.04)" font-size="28.3">0.3</text>
<text transform="translate(1213.3 689.94) scale(1 1.04)" font-size="28.3">0.4</text>
<text transform="translate(1213.3 613.5) scale(1 1.04)" font-size="28.3">0.5</text>
<path d="M1203 908.56h-5.6M1203 832.12h-5.6M1203 755.68h-5.6M1203 679.24h-5.6" stroke="#262626" stroke-width="3" fill="none"/>
<rect x="1170.4" y="602.8" width="32.6" height="382.2" fill="none" stroke="#262626" stroke-width="3.5"/>
</g>
<g class="panel">
<path d="M1484.6 985.5v-5.5M1484.6 603.1v5.5M1585.35 985.5v-5.5M1585.35 603.1v5.5M1676.2 985.5v-5.5M1676.2 603.1v5.5M1399.2 709.2h5.5M1780.3 709.2h-5.5M1399.2 798.6h5.5M1780.3 798.6h-5.5M1399.2 900.1h5.5M1780.3 900.1h-5.5" stroke="#262626" stroke-width="3.4" fill="none"/>
<rect x="1398.7" y="603.1" width="381.6" height="382.4" fill="none" stroke="#262626" stroke-width="3.8"/>
<g shape-rendering="crispEdges" stroke="none">
<path fill="#F28B7C" d="M1589.75 879.76H1608.81V889.3H1589.75Z"/>
<path fill="#F8A285" d="M1561.17 603.1H1608.81V612.64H1561.17ZM1561.17 612.64H1570.7V622.18H1561.17ZM1580.22 612.64H1627.86V622.18H1580.22ZM1551.64 622.18H1561.17V631.72H1551.64ZM1580.22 622.18H1646.91V631.72H1580.22ZM1542.11 631.72H1551.64V641.26H1542.11ZM1580.22 631.72H1599.28V641.26H1580.22ZM1608.81 631.72H1646.91V641.26H1608.81ZM1580.22 641.26H1599.28V650.8H1580.22ZM1627.86 641.26H1646.91V650.8H1627.86ZM1580.22 650.8H1589.75V660.34H1580.22ZM1580.22 660.34H1589.75V669.88H1580.22ZM1580.22 669.88H1589.75V679.42H1580.22ZM1580.22 812.98H1589.75V822.52H1580.22ZM1570.7 822.52H1589.75V832.06H1570.7ZM1570.7 832.06H1589.75V841.6H1570.7ZM1570.7 841.6H1599.28V851.14H1570.7ZM1561.17 851.14H1599.28V860.68H1561.17ZM1742.19 851.14H1751.72V860.68H1742.19ZM1561.17 860.68H1665.97V870.22H1561.17ZM1723.13 860.68H1770.77V870.22H1723.13ZM1561.17 870.22H1770.77V879.76H1561.17ZM1551.64 879.76H1589.75V889.3H1551.64ZM1608.81 879.76H1770.77V889.3H1608.81ZM1551.64 889.3H1761.25V898.84H1551.64ZM1561.17 898.84H1751.72V908.38H1561.17ZM1561.17 908.38H1723.13V917.92H1561.17ZM1561.17 917.92H1713.61V927.46H1561.17ZM1561.17 927.46H1694.55V937H1561.17ZM1551.64 937H1685.03V946.54H1551.64ZM1551.64 946.54H1656.44V956.08H1551.64ZM1561.17 956.08H1627.86V965.62H1561.17ZM1570.7 965.62H1608.81V975.16H1570.7ZM1580.22 975.16H1589.75V984.7H1580.22Z"/>
<path fill="#FBBA90" d="M1542.11 612.64H1561.17V622.18H1542.11ZM1570.7 612.64H1580.22V622.18H1570.7ZM1532.59 622.18H1551.64V631.72H1532.59ZM1561.17 622.18H1580.22V631.72H1561.17ZM1646.91 622.18H1656.44V631.72H1646.91ZM1523.06 631.72H1542.11V641.26H1523.06ZM1570.7 631.72H1580.22V641.26H1570.7ZM1599.28 631.72H1608.81V641.26H1599.28ZM1646.91 631.72H1685.03V641.26H1646.91ZM1523.06 641.26H1551.64V650.8H1523.06ZM1570.7 641.26H1580.22V650.8H1570.7ZM1599.28 641.26H1627.86V650.8H1599.28ZM1646.91 641.26H1704.08V650.8H1646.91ZM1513.53 650.8H1551.64V660.34H1513.53ZM1570.7 650.8H1580.22V660.34H1570.7ZM1589.75 650.8H1723.13V660.34H1589.75ZM1504 660.34H1523.06V669.88H1504ZM1570.7 660.34H1580.22V669.88H1570.7ZM1589.75 660.34H1723.13V669.88H1589.75ZM1570.7 669.88H1580.22V679.42H1570.7ZM1589.75 669.88H1732.66V679.42H1589.75ZM1570.7 679.42H1627.86V688.96H1570.7ZM1637.39 679.42H1770.77V688.96H1637.39ZM1570.7 688.96H1618.33V698.5H1570.7ZM1656.44 688.96H1732.66V698.5H1656.44ZM1561.17 698.5H1618.33V708.04H1561.17ZM1685.03 698.5H1704.08V708.04H1685.03ZM1561.17 708.04H1618.33V717.58H1561.17ZM1551.64 717.58H1618.33V727.12H1551.64ZM1542.11 727.12H1608.81V736.66H1542.11ZM1542.11 736.66H1608.81V746.2H1542.11ZM1542.11 746.2H1608.81V755.74H1542.11ZM1542.11 755.74H1608.81V765.28H1542.11ZM1542.11 765.28H1608.81V774.82H1542.11ZM1542.11 774.82H1608.81V784.36H1542.11ZM1523.06 784.36H1608.81V793.9H1523.06ZM1513.53 793.9H1599.28V803.44H1513.53ZM1513.53 803.44H1599.28V812.98H1513.53ZM1513.53 812.98H1580.22V822.52H1513.53ZM1589.75 812.98H1599.28V822.52H1589.75ZM1751.72 812.98H1780.3V822.52H1751.72ZM1504 822.52H1570.7V832.06H1504ZM1589.75 822.52H1599.28V832.06H1589.75ZM1732.66 822.52H1780.3V832.06H1732.66ZM1504 832.06H1570.7V841.6H1504ZM1589.75 832.06H1599.28V841.6H1589.75ZM1704.08 832.06H1780.3V841.6H1704.08ZM1494.48 841.6H1570.7V851.14H1494.48ZM1599.28 841.6H1608.81V851.14H1599.28ZM1694.55 841.6H1780.3V851.14H1694.55ZM1494.48 851.14H1561.17V860.68H1494.48ZM1599.28 851.14H1742.19V860.68H1599.28ZM1751.72 851.14H1780.3V860.68H1751.72ZM1484.95 860.68H1561.17V870.22H1484.95ZM1665.97 860.68H1723.13V870.22H1665.97ZM1770.77 860.68H1780.3V870.22H1770.77ZM1484.95 870.22H1561.17V879.76H1484.95ZM1770.77 870.22H1780.3V879.76H1770.77ZM1456.37 879.76H1551.64V889.3H1456.37ZM1770.77 879.76H1780.3V889.3H1770.77ZM1456.37 889.3H1551.64V898.84H1456.37ZM1761.25 889.3H1780.3V898.84H1761.25ZM1475.42 898.84H1561.17V908.38H1475.42ZM1751.72 898.84H1770.77V908.38H1751.72ZM1484.95 908.38H1561.17V917.92H1484.95ZM1723.13 908.38H1751.72V917.92H1723.13ZM1504 917.92H1561.17V927.46H1504ZM1713.61 917.92H1723.13V927.46H1713.61ZM1513.53 927.46H1561.17V937H1513.53ZM1694.55 927.46H1704.08V937H1694.55ZM1523.06 937H1551.64V946.54H1523.06ZM1532.59 946.54H1551.64V956.08H1532.59ZM1542.11 956.08H1561.17V965.62H1542.11ZM1561.17 965.62H1570.7V975.16H1561.17Z"/>
<path fill="#FDCFA0" d="M1513.53 622.18H1532.59V631.72H1513.53ZM1494.48 631.72H1523.06V641.26H1494.48ZM1551.64 631.72H1570.7V641.26H1551.64ZM1494.48 641.26H1523.06V650.8H1494.48ZM1551.64 641.26H1570.7V650.8H1551.64ZM1475.42 650.8H1513.53V660.34H1475.42ZM1551.64 650.8H1570.7V660.34H1551.64ZM1475.42 660.34H1504V669.88H1475.42ZM1523.06 660.34H1542.11V669.88H1523.06ZM1551.64 660.34H1570.7V669.88H1551.64ZM1723.13 660.34H1751.72V669.88H1723.13ZM1484.95 669.88H1513.53V679.42H1484.95ZM1551.64 669.88H1570.7V679.42H1551.64ZM1732.66 669.88H1770.77V679.42H1732.66ZM1475.42 679.42H1513.53V688.96H1475.42ZM1551.64 679.42H1570.7V688.96H1551.64ZM1627.86 679.42H1637.39V688.96H1627.86ZM1770.77 679.42H1780.3V688.96H1770.77ZM1475.42 688.96H1504V698.5H1475.42ZM1551.64 688.96H1570.7V698.5H1551.64ZM1618.33 688.96H1656.44V698.5H1618.33ZM1732.66 688.96H1780.3V698.5H1732.66ZM1475.42 698.5H1513.53V708.04H1475.42ZM1551.64 698.5H1561.17V708.04H1551.64ZM1618.33 698.5H1685.03V708.04H1618.33ZM1704.08 698.5H1780.3V708.04H1704.08ZM1465.89 708.04H1513.53V717.58H1465.89ZM1542.11 708.04H1561.17V717.58H1542.11ZM1618.33 708.04H1770.77V717.58H1618.33ZM1456.37 717.58H1504V727.12H1456.37ZM1523.06 717.58H1551.64V727.12H1523.06ZM1618.33 717.58H1742.19V727.12H1618.33ZM1456.37 727.12H1504V736.66H1456.37ZM1513.53 727.12H1542.11V736.66H1513.53ZM1608.81 727.12H1732.66V736.66H1608.81ZM1456.37 736.66H1494.48V746.2H1456.37ZM1608.81 736.66H1732.66V746.2H1608.81ZM1456.37 746.2H1494.48V755.74H1456.37ZM1608.81 746.2H1627.86V755.74H1608.81ZM1456.37 755.74H1494.48V765.28H1456.37ZM1608.81 755.74H1627.86V765.28H1608.81ZM1446.84 765.28H1504V774.82H1446.84ZM1608.81 765.28H1627.86V774.82H1608.81ZM1446.84 774.82H1504V784.36H1446.84ZM1523.06 774.82H1542.11V784.36H1523.06ZM1608.81 774.82H1627.86V784.36H1608.81ZM1446.84 784.36H1504V793.9H1446.84ZM1608.81 784.36H1627.86V793.9H1608.81ZM1484.95 793.9H1513.53V803.44H1484.95ZM1599.28 793.9H1627.86V803.44H1599.28ZM1475.42 803.44H1513.53V812.98H1475.42ZM1599.28 803.44H1732.66V812.98H1599.28ZM1475.42 812.98H1513.53V822.52H1475.42ZM1599.28 812.98H1751.72V822.52H1599.28ZM1475.42 822.52H1504V832.06H1475.42ZM1599.28 822.52H1732.66V832.06H1599.28ZM1465.89 832.06H1504V841.6H1465.89ZM1599.28 832.06H1704.08V841.6H1599.28ZM1465.89 841.6H1494.48V851.14H1465.89ZM1608.81 841.6H1694.55V851.14H1608.81ZM1465.89 851.14H1494.48V860.68H1465.89ZM1456.37 860.68H1484.95V870.22H1456.37ZM1456.37 870.22H1484.95V879.76H1456.37ZM1446.84 879.76H1456.37V889.3H1446.84ZM1446.84 889.3H1456.37V898.84H1446.84ZM1456.37 898.84H1475.42V908.38H1456.37ZM1465.89 908.38H1484.95V917.92H1465.89ZM1475.42 917.92H1504V927.46H1475.42ZM1494.48 927.46H1513.53V937H1494.48ZM1504 937H1523.06V946.54H1504ZM1513.53 946.54H1532.59V956.08H1513.53Z"/>
<path fill="#FEDFAF" d="M1465.89 641.26H1494.48V650.8H1465.89ZM1456.37 650.8H1475.42V660.34H1456.37ZM1456.37 660.34H1475.42V669.88H1456.37ZM1542.11 660.34H1551.64V669.88H1542.11ZM1465.89 669.88H1484.95V679.42H1465.89ZM1513.53 669.88H1542.11V679.42H1513.53ZM1465.89 679.42H1475.42V688.96H1465.89ZM1513.53 679.42H1523.06V688.96H1513.53ZM1456.37 688.96H1475.42V698.5H1456.37ZM1504 688.96H1523.06V698.5H1504ZM1456.37 698.5H1475.42V708.04H1456.37ZM1513.53 698.5H1523.06V708.04H1513.53ZM1446.84 708.04H1465.89V717.58H1446.84ZM1513.53 708.04H1523.06V717.58H1513.53ZM1770.77 708.04H1780.3V717.58H1770.77ZM1437.31 717.58H1456.37V727.12H1437.31ZM1504 717.58H1523.06V727.12H1504ZM1742.19 717.58H1780.3V727.12H1742.19ZM1437.31 727.12H1456.37V736.66H1437.31ZM1504 727.12H1513.53V736.66H1504ZM1732.66 727.12H1780.3V736.66H1732.66ZM1437.31 736.66H1456.37V746.2H1437.31ZM1494.48 736.66H1542.11V746.2H1494.48ZM1732.66 736.66H1780.3V746.2H1732.66ZM1437.31 746.2H1456.37V755.74H1437.31ZM1494.48 746.2H1542.11V755.74H1494.48ZM1627.86 746.2H1780.3V755.74H1627.86ZM1437.31 755.74H1456.37V765.28H1437.31ZM1494.48 755.74H1542.11V765.28H1494.48ZM1627.86 755.74H1751.72V765.28H1627.86ZM1437.31 765.28H1446.84V774.82H1437.31ZM1504 765.28H1542.11V774.82H1504ZM1627.86 765.28H1732.66V774.82H1627.86ZM1437.31 774.82H1446.84V784.36H1437.31ZM1504 774.82H1523.06V784.36H1504ZM1627.86 774.82H1637.39V784.36H1627.86ZM1675.5 774.82H1732.66V784.36H1675.5ZM1437.31 784.36H1446.84V793.9H1437.31ZM1504 784.36H1523.06V793.9H1504ZM1627.86 784.36H1637.39V793.9H1627.86ZM1675.5 784.36H1732.66V793.9H1675.5ZM1437.31 793.9H1484.95V803.44H1437.31ZM1627.86 793.9H1780.3V803.44H1627.86ZM1437.31 803.44H1475.42V812.98H1437.31ZM1732.66 803.44H1780.3V812.98H1732.66ZM1437.31 812.98H1475.42V822.52H1437.31ZM1437.31 822.52H1475.42V832.06H1437.31ZM1437.31 832.06H1465.89V841.6H1437.31ZM1427.78 841.6H1465.89V851.14H1427.78ZM1427.78 851.14H1465.89V860.68H1427.78ZM1437.31 860.68H1456.37V870.22H1437.31ZM1437.31 870.22H1456.37V879.76H1437.31ZM1437.31 879.76H1446.84V889.3H1437.31ZM1437.31 889.3H1446.84V898.84H1437.31ZM1437.31 898.84H1456.37V908.38H1437.31ZM1456.37 908.38H1465.89V917.92H1456.37ZM1465.89 917.92H1475.42V927.46H1465.89ZM1475.42 927.46H1494.48V937H1475.42ZM1494.48 937H1504V946.54H1494.48Z"/>
<path fill="#FBEEC0" d="M1446.84 650.8H1456.37V660.34H1446.84ZM1418.26 660.34H1456.37V669.88H1418.26ZM1446.84 669.88H1465.89V679.42H1446.84ZM1542.11 669.88H1551.64V679.42H1542.11ZM1446.84 679.42H1465.89V688.96H1446.84ZM1523.06 679.42H1551.64V688.96H1523.06ZM1437.31 688.96H1456.37V698.5H1437.31ZM1542.11 688.96H1551.64V698.5H1542.11ZM1437.31 698.5H1456.37V708.04H1437.31ZM1542.11 698.5H1551.64V708.04H1542.11ZM1408.73 708.04H1446.84V717.58H1408.73ZM1523.06 708.04H1542.11V717.58H1523.06ZM1399.2 717.58H1437.31V727.12H1399.2ZM1399.2 727.12H1437.31V736.66H1399.2ZM1399.2 736.66H1437.31V746.2H1399.2ZM1399.2 746.2H1437.31V755.74H1399.2ZM1399.2 755.74H1437.31V765.28H1399.2ZM1751.72 755.74H1780.3V765.28H1751.72ZM1399.2 765.28H1437.31V774.82H1399.2ZM1732.66 765.28H1780.3V774.82H1732.66ZM1399.2 774.82H1437.31V784.36H1399.2ZM1637.39 774.82H1675.5V784.36H1637.39ZM1732.66 774.82H1780.3V784.36H1732.66ZM1399.2 784.36H1437.31V793.9H1399.2ZM1637.39 784.36H1675.5V793.9H1637.39ZM1732.66 784.36H1780.3V793.9H1732.66ZM1399.2 793.9H1437.31V803.44H1399.2ZM1399.2 803.44H1437.31V812.98H1399.2ZM1399.2 812.98H1437.31V822.52H1399.2ZM1399.2 822.52H1437.31V832.06H1399.2ZM1399.2 832.06H1437.31V841.6H1399.2ZM1418.26 841.6H1427.78V851.14H1418.26ZM1408.73 851.14H1427.78V860.68H1408.73ZM1408.73 860.68H1437.31V870.22H1408.73ZM1408.73 870.22H1437.31V879.76H1408.73ZM1408.73 879.76H1437.31V889.3H1408.73ZM1408.73 889.3H1437.31V898.84H1408.73ZM1418.26 898.84H1437.31V908.38H1418.26ZM1437.31 908.38H1456.37V917.92H1437.31ZM1446.84 917.92H1465.89V927.46H1446.84ZM1465.89 927.46H1475.42V937H1465.89Z"/>
<path fill="#F0F1D7" d="M1399.2 669.88H1446.84V679.42H1399.2ZM1418.26 679.42H1446.84V688.96H1418.26ZM1418.26 688.96H1437.31V698.5H1418.26ZM1523.06 688.96H1542.11V698.5H1523.06ZM1399.2 698.5H1437.31V708.04H1399.2ZM1523.06 698.5H1542.11V708.04H1523.06ZM1399.2 708.04H1408.73V717.58H1399.2ZM1399.2 841.6H1418.26V851.14H1399.2ZM1399.2 851.14H1408.73V860.68H1399.2ZM1399.2 860.68H1408.73V870.22H1399.2ZM1399.2 870.22H1408.73V879.76H1399.2ZM1399.2 879.76H1408.73V889.3H1399.2ZM1399.2 889.3H1408.73V898.84H1399.2ZM1408.73 898.84H1418.26V908.38H1408.73ZM1418.26 908.38H1437.31V917.92H1418.26Z"/>
<path fill="#E0F0E8" d="M1399.2 679.42H1418.26V688.96H1399.2ZM1399.2 688.96H1418.26V698.5H1399.2ZM1399.2 898.84H1408.73V908.38H1399.2Z"/>
</g>
<g fill="none" stroke="#000" stroke-linecap="butt">
<circle cx="1585.35" cy="798.6" r="47.75" stroke-width="3.8"/>
<circle cx="1585.35" cy="798.6" r="95.5" stroke-width="3.8"/>
<circle cx="1585.35" cy="798.6" r="143.25" stroke-width="3.8"/>
<path d="M1399.2 755.83A191 191 0 1 1 1627.9 984.8M1542.8 984.8A191 191 0 0 1 1399.2 841.37" stroke-width="3.8"/>
<path d="M1399.2 603.1L1780.3 985.5M1399.2 985.5L1780.3 603.1" stroke-width="3.9"/>
<path d="M1397.4 798.6H1781.8M1585.35 986.4V601.6" stroke-width="3.8" stroke-dasharray="16.8 12.4"/>
<circle cx="1585.35" cy="798.6" r="5.3" fill="#000" stroke="none"/>
<circle cx="1688.2" cy="814.6" r="5.6" fill="#000" stroke="none"/>
</g>
<text class="t" transform="translate(1580.4 578.1) scale(1 1.04)" font-size="28.4" text-anchor="middle">F) Centre Distance - Neural Limit</text>
<text transform="translate(1399.2 1023.7) scale(1 1.04)" font-size="28.3" text-anchor="middle">-20°</text>
<text transform="translate(1484.6 1023.7) scale(1 1.04)" font-size="28.3" text-anchor="middle">-10°</text>
<text transform="translate(1585.35 1023.7) scale(1 1.04)" font-size="28.3" text-anchor="middle">0°</text>
<text transform="translate(1676.2 1023.7) scale(1 1.04)" font-size="28.3" text-anchor="middle">10°</text>
<text transform="translate(1780.25 1023.7) scale(1 1.04)" font-size="28.3" text-anchor="middle">20°</text>
<text transform="translate(1388.8 613) scale(1 1.04)" font-size="28.3" text-anchor="end">-20°</text>
<text transform="translate(1388.8 719.1) scale(1 1.04)" font-size="28.3" text-anchor="end">-10°</text>
<text transform="translate(1388.8 808.5) scale(1 1.04)" font-size="28.3" text-anchor="end">0°</text>
<text transform="translate(1388.8 910) scale(1 1.04)" font-size="28.3" text-anchor="end">+10°</text>
<text transform="translate(1388.8 995.4) scale(1 1.04)" font-size="28.3" text-anchor="end">+20°</text>
<text transform="translate(1591.1 1062.3) scale(1 1.04)" font-size="28.3" text-anchor="middle">Horizontal Meridian</text>
<text transform="translate(1316.4 794.3) rotate(-90) scale(1 1.04)" font-size="28.3" text-anchor="middle">Vertical Meridian</text>
<g shape-rendering="crispEdges">
<rect x="1818.2" y="946.78" width="32.6" height="38.22" fill="#B5334F"/>
<rect x="1818.2" y="908.56" width="32.6" height="38.72" fill="#CB4557"/>
<rect x="1818.2" y="870.34" width="32.6" height="38.72" fill="#DD5860"/>
<rect x="1818.2" y="832.12" width="32.6" height="38.72" fill="#E8706B"/>
<rect x="1818.2" y="793.9" width="32.6" height="38.72" fill="#F28B7C"/>
<rect x="1818.2" y="755.68" width="32.6" height="38.72" fill="#F8A285"/>
<rect x="1818.2" y="717.46" width="32.6" height="38.72" fill="#FBBA90"/>
<rect x="1818.2" y="679.24" width="32.6" height="38.72" fill="#FDCFA0"/>
<rect x="1818.2" y="641.02" width="32.6" height="38.72" fill="#FEDFAF"/>
<rect x="1818.2" y="602.8" width="32.6" height="38.72" fill="#FBEEC0"/>
</g>
<text transform="translate(1861.1 995.7) scale(1 1.04)" font-size="28.3">0</text>
<text transform="translate(1861.1 919.26) scale(1 1.04)" font-size="28.3">0.1</text>
<text transform="translate(1861.1 842.82) scale(1 1.04)" font-size="28.3">0.2</text>
<text transform="translate(1861.1 766.38) scale(1 1.04)" font-size="28.3">0.3</text>
<text transform="translate(1861.1 689.94) scale(1 1.04)" font-size="28.3">0.4</text>
<text transform="translate(1861.1 613.5) scale(1 1.04)" font-size="28.3">0.5</text>
<path d="M1850.8 908.56h-5.6M1850.8 832.12h-5.6M1850.8 755.68h-5.6M1850.8 679.24h-5.6" stroke="#262626" stroke-width="3" fill="none"/>
<rect x="1818.2" y="602.8" width="32.6" height="382.2" fill="none" stroke="#262626" stroke-width="3.5"/>
</g>
</svg>
</body>
</html>
